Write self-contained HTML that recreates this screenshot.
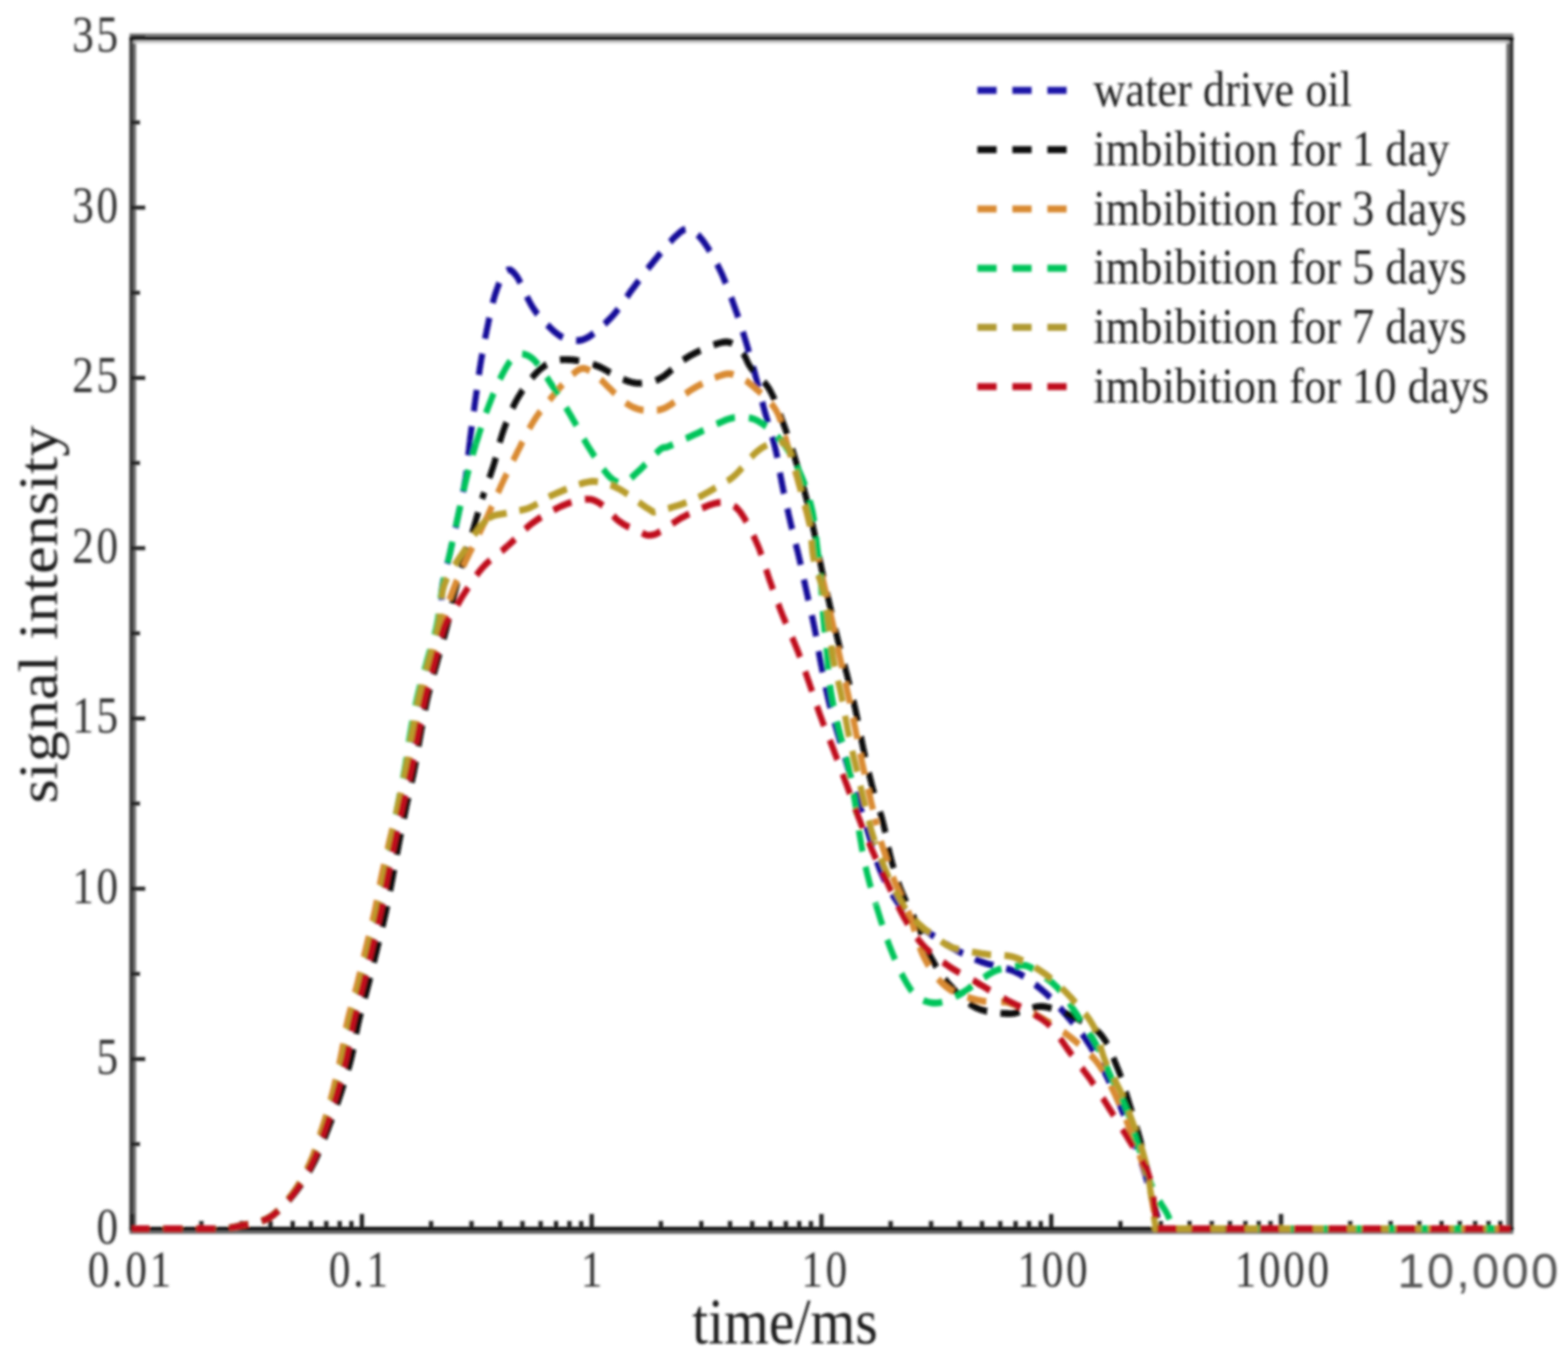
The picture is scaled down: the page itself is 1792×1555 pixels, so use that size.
<!DOCTYPE html><html><head><meta charset="utf-8"><style>html,body{margin:0;padding:0;background:#fff;overflow:hidden}svg{display:block}</style></head><body>
<svg width="1792" height="1555" viewBox="0 0 1792 1555">
<rect width="1792" height="1555" fill="#fff"/>
<defs><filter id="bl" x="0" y="0" width="1792" height="1555" filterUnits="userSpaceOnUse"><feGaussianBlur stdDeviation="1.5"/></filter></defs><g filter="url(#bl)">
<g fill="none">
<line x1="153.8" y1="44.0" x2="153.8" y2="1404.0" stroke="#707070" stroke-width="3.5"/>
<line x1="1723.2" y1="44.0" x2="1723.2" y2="1404.0" stroke="#707070" stroke-width="3.5"/>
<line x1="148.0" y1="40.0" x2="1729.5" y2="40.0" stroke="#7a7a7a" stroke-width="3.5"/>
<line x1="152.0" y1="48.0" x2="1725.0" y2="48.0" stroke="#cccccc" stroke-width="3"/>
<line x1="148.0" y1="1408.0" x2="1729.5" y2="1408.0" stroke="#666" stroke-width="3.5"/>
<line x1="150.0" y1="42.0" x2="150.0" y2="1406.0" stroke="#3a3a3a" stroke-width="4.5"/>
<line x1="1727.3" y1="42.0" x2="1727.3" y2="1406.0" stroke="#303030" stroke-width="4.5"/>
<line x1="148.0" y1="44.0" x2="1729.5" y2="44.0" stroke="#050505" stroke-width="4.5"/>
<line x1="148.0" y1="1404.0" x2="1729.5" y2="1404.0" stroke="#050505" stroke-width="4.5"/>
</g>
<g><line x1="151.0" y1="1404.0" x2="151.0" y2="1387.0" stroke="#222" stroke-width="5"/><line x1="230.1" y1="1404.0" x2="230.1" y2="1395.0" stroke="#222" stroke-width="5"/><line x1="276.3" y1="1404.0" x2="276.3" y2="1395.0" stroke="#222" stroke-width="5"/><line x1="309.1" y1="1404.0" x2="309.1" y2="1395.0" stroke="#222" stroke-width="5"/><line x1="334.5" y1="1404.0" x2="334.5" y2="1395.0" stroke="#222" stroke-width="5"/><line x1="355.3" y1="1404.0" x2="355.3" y2="1395.0" stroke="#222" stroke-width="5"/><line x1="372.9" y1="1404.0" x2="372.9" y2="1395.0" stroke="#222" stroke-width="5"/><line x1="388.2" y1="1404.0" x2="388.2" y2="1395.0" stroke="#222" stroke-width="5"/><line x1="401.6" y1="1404.0" x2="401.6" y2="1395.0" stroke="#222" stroke-width="5"/><line x1="413.6" y1="1404.0" x2="413.6" y2="1387.0" stroke="#222" stroke-width="5"/><line x1="492.7" y1="1404.0" x2="492.7" y2="1395.0" stroke="#222" stroke-width="5"/><line x1="538.9" y1="1404.0" x2="538.9" y2="1395.0" stroke="#222" stroke-width="5"/><line x1="571.7" y1="1404.0" x2="571.7" y2="1395.0" stroke="#222" stroke-width="5"/><line x1="597.1" y1="1404.0" x2="597.1" y2="1395.0" stroke="#222" stroke-width="5"/><line x1="617.9" y1="1404.0" x2="617.9" y2="1395.0" stroke="#222" stroke-width="5"/><line x1="635.5" y1="1404.0" x2="635.5" y2="1395.0" stroke="#222" stroke-width="5"/><line x1="650.8" y1="1404.0" x2="650.8" y2="1395.0" stroke="#222" stroke-width="5"/><line x1="664.2" y1="1404.0" x2="664.2" y2="1395.0" stroke="#222" stroke-width="5"/><line x1="676.2" y1="1404.0" x2="676.2" y2="1387.0" stroke="#222" stroke-width="5"/><line x1="755.3" y1="1404.0" x2="755.3" y2="1395.0" stroke="#222" stroke-width="5"/><line x1="801.5" y1="1404.0" x2="801.5" y2="1395.0" stroke="#222" stroke-width="5"/><line x1="834.3" y1="1404.0" x2="834.3" y2="1395.0" stroke="#222" stroke-width="5"/><line x1="859.7" y1="1404.0" x2="859.7" y2="1395.0" stroke="#222" stroke-width="5"/><line x1="880.5" y1="1404.0" x2="880.5" y2="1395.0" stroke="#222" stroke-width="5"/><line x1="898.1" y1="1404.0" x2="898.1" y2="1395.0" stroke="#222" stroke-width="5"/><line x1="913.4" y1="1404.0" x2="913.4" y2="1395.0" stroke="#222" stroke-width="5"/><line x1="926.8" y1="1404.0" x2="926.8" y2="1395.0" stroke="#222" stroke-width="5"/><line x1="938.8" y1="1404.0" x2="938.8" y2="1387.0" stroke="#222" stroke-width="5"/><line x1="1017.9" y1="1404.0" x2="1017.9" y2="1395.0" stroke="#222" stroke-width="5"/><line x1="1064.1" y1="1404.0" x2="1064.1" y2="1395.0" stroke="#222" stroke-width="5"/><line x1="1096.9" y1="1404.0" x2="1096.9" y2="1395.0" stroke="#222" stroke-width="5"/><line x1="1122.3" y1="1404.0" x2="1122.3" y2="1395.0" stroke="#222" stroke-width="5"/><line x1="1143.1" y1="1404.0" x2="1143.1" y2="1395.0" stroke="#222" stroke-width="5"/><line x1="1160.7" y1="1404.0" x2="1160.7" y2="1395.0" stroke="#222" stroke-width="5"/><line x1="1176.0" y1="1404.0" x2="1176.0" y2="1395.0" stroke="#222" stroke-width="5"/><line x1="1189.4" y1="1404.0" x2="1189.4" y2="1395.0" stroke="#222" stroke-width="5"/><line x1="1201.4" y1="1404.0" x2="1201.4" y2="1387.0" stroke="#222" stroke-width="5"/><line x1="1280.5" y1="1404.0" x2="1280.5" y2="1395.0" stroke="#222" stroke-width="5"/><line x1="1326.7" y1="1404.0" x2="1326.7" y2="1395.0" stroke="#222" stroke-width="5"/><line x1="1359.5" y1="1404.0" x2="1359.5" y2="1395.0" stroke="#222" stroke-width="5"/><line x1="1384.9" y1="1404.0" x2="1384.9" y2="1395.0" stroke="#222" stroke-width="5"/><line x1="1405.7" y1="1404.0" x2="1405.7" y2="1395.0" stroke="#222" stroke-width="5"/><line x1="1423.3" y1="1404.0" x2="1423.3" y2="1395.0" stroke="#222" stroke-width="5"/><line x1="1438.6" y1="1404.0" x2="1438.6" y2="1395.0" stroke="#222" stroke-width="5"/><line x1="1452.0" y1="1404.0" x2="1452.0" y2="1395.0" stroke="#222" stroke-width="5"/><line x1="1464.0" y1="1404.0" x2="1464.0" y2="1387.0" stroke="#222" stroke-width="5"/><line x1="1543.1" y1="1404.0" x2="1543.1" y2="1395.0" stroke="#222" stroke-width="5"/><line x1="1589.3" y1="1404.0" x2="1589.3" y2="1395.0" stroke="#222" stroke-width="5"/><line x1="1622.1" y1="1404.0" x2="1622.1" y2="1395.0" stroke="#222" stroke-width="5"/><line x1="1647.5" y1="1404.0" x2="1647.5" y2="1395.0" stroke="#222" stroke-width="5"/><line x1="1668.3" y1="1404.0" x2="1668.3" y2="1395.0" stroke="#222" stroke-width="5"/><line x1="1685.9" y1="1404.0" x2="1685.9" y2="1395.0" stroke="#222" stroke-width="5"/><line x1="1701.2" y1="1404.0" x2="1701.2" y2="1395.0" stroke="#222" stroke-width="5"/><line x1="1714.6" y1="1404.0" x2="1714.6" y2="1395.0" stroke="#222" stroke-width="5"/><line x1="150.0" y1="1404.5" x2="166.0" y2="1404.5" stroke="#222" stroke-width="4.5"/><line x1="150.0" y1="1307.2" x2="160.0" y2="1307.2" stroke="#222" stroke-width="4.5"/><line x1="150.0" y1="1210.0" x2="166.0" y2="1210.0" stroke="#222" stroke-width="4.5"/><line x1="150.0" y1="1112.7" x2="160.0" y2="1112.7" stroke="#222" stroke-width="4.5"/><line x1="150.0" y1="1015.4" x2="166.0" y2="1015.4" stroke="#222" stroke-width="4.5"/><line x1="150.0" y1="918.1" x2="160.0" y2="918.1" stroke="#222" stroke-width="4.5"/><line x1="150.0" y1="820.9" x2="166.0" y2="820.9" stroke="#222" stroke-width="4.5"/><line x1="150.0" y1="723.6" x2="160.0" y2="723.6" stroke="#222" stroke-width="4.5"/><line x1="150.0" y1="626.3" x2="166.0" y2="626.3" stroke="#222" stroke-width="4.5"/><line x1="150.0" y1="529.0" x2="160.0" y2="529.0" stroke="#222" stroke-width="4.5"/><line x1="150.0" y1="431.8" x2="166.0" y2="431.8" stroke="#222" stroke-width="4.5"/><line x1="150.0" y1="334.5" x2="160.0" y2="334.5" stroke="#222" stroke-width="4.5"/><line x1="150.0" y1="237.2" x2="166.0" y2="237.2" stroke="#222" stroke-width="4.5"/><line x1="150.0" y1="139.9" x2="160.0" y2="139.9" stroke="#222" stroke-width="4.5"/><line x1="150.0" y1="42.7" x2="166.0" y2="42.7" stroke="#222" stroke-width="4.5"/></g>
<g fill="none" stroke-linecap="butt" stroke-linejoin="round" transform="scale(1,1.12)">
<path d="M151.0,1253.6 152.7,1253.6 154.8,1253.6 157.1,1253.6 159.8,1253.6 162.7,1253.6 165.7,1253.6 169.0,1253.6 172.4,1253.6 175.9,1253.6 179.4,1253.6 183.0,1253.6 186.5,1253.6 190.1,1253.6 193.5,1253.6 196.8,1253.6 200.0,1253.6 203.1,1253.6 206.4,1253.6 209.6,1253.6 213.0,1253.6 216.3,1253.6 219.7,1253.6 223.0,1253.6 226.4,1253.6 229.7,1253.6 232.9,1253.6 236.0,1253.6 239.1,1253.6 242.0,1253.6 244.8,1253.6 247.5,1253.6 250.0,1253.6 254.0,1253.4 257.5,1253.1 260.6,1252.8 263.4,1252.5 266.0,1252.1 268.6,1251.7 271.2,1251.2 274.0,1250.6 277.0,1250.0 280.0,1249.4 283.0,1248.9 286.1,1248.4 289.3,1247.9 292.5,1247.3 295.7,1246.5 298.9,1245.7 302.0,1244.7 305.0,1243.4 308.0,1242.0 310.4,1240.5 312.8,1239.0 315.2,1237.2 317.5,1235.4 319.8,1233.4 322.1,1231.4 324.4,1229.2 326.6,1227.0 328.8,1224.8 330.9,1222.5 333.0,1220.2 335.0,1217.9 337.0,1215.5 338.9,1213.1 340.8,1210.6 342.7,1208.1 344.5,1205.5 346.2,1202.9 348.0,1200.2 349.7,1197.6 351.3,1194.8 352.9,1192.1 354.5,1189.4 356.0,1186.6 357.5,1183.8 358.9,1181.0 360.2,1178.2 361.5,1175.3 362.8,1172.4 364.0,1169.5 365.2,1166.5 366.4,1163.6 367.5,1160.6 368.7,1157.7 369.8,1154.7 371.0,1151.8 372.2,1148.8 373.3,1145.9 374.4,1143.0 375.6,1140.0 376.7,1137.1 377.8,1134.1 378.8,1131.1 379.9,1128.1 380.9,1125.1 382.0,1122.1 383.0,1119.1 384.0,1116.1 384.9,1113.2 385.8,1110.4 386.7,1107.5 387.6,1104.6 388.5,1101.7 389.4,1098.8 390.2,1095.9 391.1,1093.0 391.9,1090.1 392.7,1087.2 393.5,1084.3 394.3,1081.4 395.0,1078.6 395.8,1075.5 396.5,1072.4 397.1,1069.4 397.8,1066.3 398.4,1063.3 399.0,1060.3 399.6,1057.2 400.2,1054.2 400.9,1051.2 401.5,1048.1 402.2,1045.0 403.0,1042.0 403.8,1039.1 404.5,1036.2 405.4,1033.4 406.2,1030.5 407.1,1027.6 407.9,1024.7 408.8,1021.8 409.7,1018.9 410.6,1016.0 411.5,1013.1 412.3,1010.2 413.2,1007.3 414.0,1004.5 414.9,1001.4 415.7,998.3 416.6,995.3 417.4,992.2 418.2,989.2 419.1,986.2 419.9,983.1 420.7,980.1 421.5,977.1 422.3,974.0 423.2,970.9 424.0,967.9 424.8,964.8 425.7,961.6 426.5,958.5 427.4,955.4 428.3,952.3 429.1,949.1 430.0,946.0 430.8,942.8 431.6,939.7 432.4,936.6 433.2,933.5 434.0,930.4 434.7,927.3 435.4,924.2 436.1,921.1 436.8,918.1 437.5,915.0 438.1,911.9 438.8,908.9 439.4,905.9 440.0,902.8 440.7,899.8 441.3,896.8 442.0,893.7 442.7,890.7 443.3,887.8 444.0,884.8 444.6,881.8 445.3,878.9 445.9,875.9 446.6,873.0 447.3,870.0 447.9,867.1 448.6,864.1 449.3,861.1 450.0,858.0 450.7,855.0 451.4,851.9 452.2,848.7 452.9,845.6 453.7,842.4 454.4,839.2 455.2,836.1 456.0,832.9 456.7,829.8 457.5,826.7 458.2,823.6 459.0,820.5 459.8,817.3 460.6,814.1 461.5,810.9 462.3,807.8 463.1,804.7 464.0,801.6 464.8,798.5 465.6,795.4 466.4,792.2 467.2,789.0 468.0,785.7 468.6,782.9 469.3,780.0 469.9,777.1 470.5,774.1 471.1,771.1 471.8,768.1 472.4,765.1 473.0,762.1 473.6,759.1 474.2,756.1 474.8,753.2 475.4,750.2 476.0,747.3 476.7,744.2 477.3,741.1 477.9,738.0 478.6,735.0 479.2,731.9 479.8,728.9 480.5,725.9 481.1,722.9 481.8,719.8 482.5,716.8 483.2,713.8 484.0,710.7 484.8,707.7 485.7,704.6 486.5,701.5 487.4,698.5 488.4,695.4 489.3,692.4 490.3,689.3 491.2,686.2 492.2,683.2 493.1,680.2 494.1,677.1 495.0,674.1 496.0,671.1 497.0,668.1 498.0,665.1 499.1,662.2 500.2,659.2 501.2,656.2 502.3,653.3 503.2,650.3 504.1,647.4 504.9,644.4 505.5,641.4 506.0,638.4 506.3,635.4 506.4,632.3 506.4,629.3 506.2,626.3 505.9,623.2 505.6,620.1 505.3,617.1 505.0,614.0 504.8,611.0 504.7,607.9 504.8,604.8 505.0,601.8 505.4,598.7 505.9,595.7 506.5,592.6 507.3,589.6 508.0,586.5 508.9,583.5 509.7,580.4 510.6,577.4 511.5,574.3 512.4,571.3 513.2,568.2 514.0,565.2 514.8,562.1 515.5,559.1 516.2,556.1 517.0,553.1 517.7,550.1 518.5,547.1 519.2,544.1 520.0,541.0 520.8,538.0 521.5,534.9 522.2,531.7 523.0,528.6 523.7,525.6 524.4,522.6 525.2,519.5 525.9,516.4 526.6,513.3 527.4,510.2 528.1,507.0 528.8,503.9 529.5,500.7 530.2,497.6 530.8,494.5 531.4,491.4 532.0,488.4 532.6,485.1 533.1,481.9 533.5,478.7 533.9,475.5 534.3,472.4 534.7,469.2 535.0,466.0 535.4,462.9 535.8,459.7 536.2,456.5 536.6,453.3 537.0,450.0" stroke="#14109a" stroke-width="7" stroke-dasharray="22 15.75" stroke-dashoffset="2.2"/>
<path d="M537.0,450.0 537.4,447.0 537.9,443.9 538.3,440.8 538.8,437.7 539.2,434.6 539.7,431.4 540.2,428.3 540.6,425.2 541.1,422.0 541.6,418.9 542.1,415.9 542.5,412.8 543.0,409.8 543.5,406.6 544.0,403.4 544.5,400.3 544.9,397.2 545.4,394.1 545.9,391.0 546.4,387.9 546.9,384.8 547.4,381.7 547.9,378.6 548.4,375.5 549.0,372.3 549.5,369.4 550.1,366.4 550.7,363.4 551.3,360.4 551.9,357.4 552.5,354.4 553.1,351.4 553.8,348.4 554.4,345.4 555.0,342.5 555.7,339.6 556.3,336.7 557.0,333.9 557.8,330.6 558.5,327.3 559.3,324.1 560.1,320.8 560.9,317.6 561.6,314.4 562.5,311.4 563.3,308.4 564.2,305.5 565.1,302.7 566.0,300.0 567.4,296.4 568.8,292.8 570.3,289.3 571.8,286.0 573.4,283.0 574.9,280.4 576.5,278.3 578.0,276.8 580.8,275.3 583.5,275.4 586.4,277.4 590.0,281.2 591.3,282.9 592.6,284.9 594.0,287.3 595.4,289.8 596.9,292.6 598.4,295.5 600.0,298.5 601.6,301.5 603.2,304.5 604.9,307.4 606.6,310.2 608.3,312.8 610.0,315.2 612.1,317.8 614.3,320.4 616.7,322.9 619.1,325.4 621.5,327.8 623.9,330.0 626.3,332.2 628.6,334.2 630.9,336.1 633.0,337.8 635.0,339.3 638.3,341.6 641.2,343.3 643.9,344.5 646.5,345.3 649.1,346.0 652.0,346.4 654.9,346.9 657.8,347.3 660.8,347.4 663.9,347.1 667.2,346.2 671.0,344.6 673.1,343.5 675.3,342.2 677.7,340.6 680.1,338.9 682.7,337.1 685.2,335.1 687.8,333.0 690.4,330.9 692.9,328.8 695.4,326.6 697.8,324.4 700.0,322.3 702.3,320.0 704.5,317.6 706.7,315.1 708.8,312.6 710.9,310.1 712.9,307.5 714.9,304.9 716.9,302.3 718.9,299.7 720.9,297.1 723.0,294.6 725.1,292.2 727.1,289.7 729.2,287.3 731.2,284.8 733.3,282.4 735.3,280.0 737.4,277.6 739.5,275.1 741.6,272.7 743.8,270.3 746.0,267.9 748.1,265.6 750.3,263.2 752.5,260.7 754.9,258.2 757.2,255.7 759.5,253.2 761.8,250.8 764.0,248.5 766.2,246.4 768.3,244.4 770.2,242.6 772.0,241.1 775.7,238.1 778.7,235.9 781.4,234.4 784.0,233.8 787.0,233.9 789.3,234.5 791.6,235.5 794.0,236.9 796.4,238.7 798.9,240.9 801.4,243.5 804.0,246.4 805.6,248.4 807.2,250.5 808.9,252.8 810.6,255.3 812.3,257.8 814.1,260.5 815.8,263.3 817.5,266.2 819.2,269.0 820.9,271.9 822.5,274.8 824.0,277.7 825.4,280.3 826.7,283.1 828.0,285.8 829.3,288.7 830.6,291.5 831.9,294.4 833.1,297.3 834.3,300.2 835.5,303.1 836.7,306.0 837.8,308.8 838.9,311.6 840.0,314.3 841.2,317.4 842.5,320.5 843.6,323.6 844.7,326.6 845.8,329.6 846.9,332.6 848.0,335.6 849.0,338.5 850.0,341.5 851.0,344.4 852.0,347.3 853.1,350.5 854.1,353.5 855.1,356.5 856.0,359.5 857.0,362.4 858.0,365.5 858.9,368.5 859.9,371.7 860.9,375.1 862.0,378.6 862.8,381.2 863.6,384.0 864.4,386.8 865.3,389.7 866.1,392.7 867.0,395.7 867.9,398.7 868.8,401.8 869.6,404.8 870.5,407.9 871.4,410.9 872.3,413.9 873.1,416.8 874.0,419.6 874.9,422.6 875.9,425.6 876.9,428.5 877.8,431.4 878.8,434.3 879.8,437.2 880.7,440.0 881.7,442.9 882.6,445.7 883.5,448.6 884.4,451.4 885.2,454.3 886.0,457.1 886.8,460.3 887.6,463.4 888.3,466.5 888.9,469.7 889.6,472.8 890.2,475.9 890.8,479.1 891.4,482.2 892.0,485.3 892.7,488.4 893.3,491.5 894.0,494.6 894.7,497.7 895.4,500.8 896.2,503.9 896.9,506.9 897.6,510.0 898.4,513.0 899.1,516.0 899.9,519.1 900.7,522.1 901.4,525.2 902.2,528.2 903.0,531.2 903.8,534.3 904.6,537.4 905.5,540.4 906.3,543.5 907.1,546.5 908.0,549.6 908.9,552.6 909.7,555.7 910.5,558.7 911.4,561.8 912.2,564.8 913.0,567.9 913.8,570.9 914.6,574.0 915.3,577.0 916.1,580.1 916.8,583.1 917.6,586.2 918.3,589.2 919.0,592.3 919.8,595.3 920.5,598.4 921.3,601.4 922.0,604.5 922.8,607.5 923.5,610.6 924.3,613.7 925.1,616.7 925.9,619.8 926.6,622.9 927.4,625.9 928.1,629.0 928.9,632.0 929.6,635.1 930.3,638.1 931.0,641.1 931.7,644.3 932.4,647.5 933.0,650.6 933.6,653.7 934.2,656.8 934.8,659.9 935.4,663.0 936.0,666.2 936.6,669.4 937.3,672.6 938.0,675.9 938.6,678.7 939.3,681.6 939.9,684.6 940.6,687.5 941.2,690.5 941.9,693.5 942.6,696.5 943.3,699.6 944.0,702.6 944.7,705.5 945.5,708.5 946.2,711.4 947.0,714.3 947.8,717.4 948.7,720.4 949.6,723.4 950.5,726.4 951.4,729.4 952.3,732.3 953.2,735.3 954.2,738.2 955.1,741.1 956.1,744.1 957.0,747.0 958.0,750.0 959.0,753.0 959.9,756.0 960.9,759.0 961.9,762.0 962.9,765.0 963.9,768.0 964.9,771.0 966.0,773.9 967.0,776.9 968.0,779.9 969.0,782.8 970.0,785.7 971.1,788.9 972.2,792.0 973.3,795.1 974.4,798.3 975.5,801.4 976.6,804.4 977.7,807.5 978.8,810.6 979.9,813.6 980.9,816.6 982.0,819.6 983.0,822.6 984.0,825.6 985.0,828.5 986.0,831.4 987.0,834.3 988.0,837.2 989.0,840.0 990.0,842.9 991.0,845.9 992.0,848.8 993.0,851.8 994.0,854.8 995.1,857.9 996.1,861.1 997.2,864.3 998.2,867.5 999.3,870.7 1000.4,873.8 1001.5,876.9 1002.6,880.0 1003.8,882.9 1005.0,885.7 1006.4,888.7 1007.7,891.6 1009.1,894.4 1010.5,897.1 1012.0,899.7 1013.5,902.3 1015.0,904.9 1016.6,907.4 1018.3,910.0 1020.0,912.5 1021.8,915.1 1023.6,917.6 1025.6,920.2 1027.5,922.8 1029.6,925.3 1031.6,927.7 1033.7,930.1 1035.8,932.4 1037.9,934.6 1040.0,936.6 1042.6,938.9 1045.3,941.1 1048.1,943.0 1050.8,944.9 1053.6,946.6 1056.4,948.3 1059.2,950.0 1062.0,951.8" stroke="#14109a" stroke-width="7" stroke-dasharray="22 15.50" stroke-dashoffset="6.6"/>
<path d="M1062.0,951.8 1064.8,953.6 1067.7,955.3 1070.6,957.1 1073.4,958.8 1076.3,960.4 1079.2,962.1 1082.1,963.6 1085.0,965.2 1087.9,966.7 1090.8,968.1 1093.8,969.5 1096.7,970.9 1099.6,972.3 1102.5,973.5 1105.3,974.7 1108.0,975.9 1110.9,977.1 1113.5,978.1 1116.0,979.1 1118.6,980.0 1121.4,981.0 1124.4,982.0 1128.0,983.0 1130.6,983.7 1133.4,984.4 1136.3,985.1 1139.5,985.7 1142.7,986.4 1146.0,987.1 1149.3,987.9 1152.6,988.7 1155.8,989.7 1159.0,990.7 1162.0,992.0 1164.7,993.2 1167.4,994.6 1170.1,996.1 1172.8,997.6 1175.5,999.3 1178.1,1000.9 1180.7,1002.7 1183.3,1004.5 1185.8,1006.3 1188.3,1008.1 1190.7,1009.8 1193.0,1011.6 1195.7,1013.7 1198.2,1015.8 1200.7,1017.9 1203.1,1020.1 1205.4,1022.3 1207.7,1024.5 1209.9,1026.8 1212.2,1029.1 1214.6,1031.5 1217.0,1033.9 1219.1,1036.0 1221.1,1038.1 1223.2,1040.3 1225.3,1042.4 1227.4,1044.6 1229.6,1046.9 1231.7,1049.2 1233.8,1051.5 1235.9,1053.9 1237.9,1056.4 1240.0,1059.0 1242.0,1061.6 1243.7,1063.9 1245.4,1066.3 1247.1,1068.7 1248.7,1071.2 1250.4,1073.7 1252.0,1076.2 1253.7,1078.9 1255.3,1081.5 1256.9,1084.2 1258.6,1086.9 1260.2,1089.7 1261.8,1092.5 1263.4,1095.3 1265.0,1098.2 1266.4,1100.8 1267.8,1103.4 1269.2,1106.1 1270.7,1108.8 1272.1,1111.6 1273.5,1114.4 1274.9,1117.2 1276.3,1120.0 1277.7,1122.9 1279.1,1125.8 1280.5,1128.6 1281.8,1131.5 1283.1,1134.4 1284.4,1137.2 1285.7,1140.1 1287.0,1142.9 1288.2,1145.6 1289.5,1148.4 1290.7,1151.2 1291.9,1154.0 1293.0,1156.8 1294.2,1159.6 1295.3,1162.4 1296.4,1165.2 1297.5,1168.0 1298.6,1170.8 1299.7,1173.5 1300.8,1176.3 1301.9,1179.1 1302.9,1181.9 1304.0,1184.7 1305.0,1187.5 1306.1,1190.5 1307.2,1193.6 1308.3,1196.8 1309.4,1200.0 1310.5,1203.2 1311.6,1206.5 1312.6,1209.7 1313.6,1212.9 1314.6,1216.0 1315.6,1219.0 1316.6,1221.9 1317.5,1224.7 1318.4,1227.4 1319.2,1229.8 1320.0,1232.1 1321.4,1236.6 1322.6,1240.6 1323.6,1244.1 1324.4,1247.1 1325.4,1249.7 1326.6,1251.8 1328.0,1253.6 1328.3,1253.6 1326.7,1253.6 1326.4,1253.6 1330.8,1253.6 1343.0,1253.6 1344.7,1253.6 1346.5,1253.6 1348.3,1253.6 1350.2,1253.6 1352.2,1253.6 1354.3,1253.6 1356.4,1253.6 1358.6,1253.6 1360.9,1253.6 1363.3,1253.6 1365.7,1253.6 1368.1,1253.6 1370.6,1253.6 1373.2,1253.6 1375.9,1253.6 1378.6,1253.6 1381.3,1253.6 1384.1,1253.6 1387.0,1253.6 1389.9,1253.6 1392.9,1253.6 1395.9,1253.6 1398.9,1253.6 1402.0,1253.6 1405.1,1253.6 1408.3,1253.6 1411.5,1253.6 1414.8,1253.6 1418.1,1253.6 1421.4,1253.6 1424.7,1253.6 1428.1,1253.6 1431.5,1253.6 1435.0,1253.6 1438.5,1253.6 1442.0,1253.6 1445.5,1253.6 1449.0,1253.6 1452.6,1253.6 1456.1,1253.6 1459.7,1253.6 1463.4,1253.6 1467.0,1253.6 1470.6,1253.6 1474.3,1253.6 1477.9,1253.6 1481.6,1253.6 1485.3,1253.6 1489.0,1253.6 1492.6,1253.6 1496.3,1253.6 1500.0,1253.6 1502.6,1253.6 1505.2,1253.6 1507.9,1253.6 1510.7,1253.6 1513.5,1253.6 1516.4,1253.6 1519.3,1253.6 1522.3,1253.6 1525.3,1253.6 1528.4,1253.6 1531.5,1253.6 1534.7,1253.6 1537.9,1253.6 1541.1,1253.6 1544.4,1253.6 1547.7,1253.6 1551.0,1253.6 1554.4,1253.6 1557.8,1253.6 1561.2,1253.6 1564.7,1253.6 1568.1,1253.6 1571.6,1253.6 1575.1,1253.6 1578.6,1253.6 1582.1,1253.6 1585.6,1253.6 1589.2,1253.6 1592.7,1253.6 1596.3,1253.6 1599.8,1253.6 1603.4,1253.6 1606.9,1253.6 1610.5,1253.6 1614.0,1253.6 1617.5,1253.6 1621.1,1253.6 1624.6,1253.6 1628.1,1253.6 1631.5,1253.6 1635.0,1253.6 1638.4,1253.6 1641.8,1253.6 1645.2,1253.6 1648.6,1253.6 1651.9,1253.6 1655.2,1253.6 1658.4,1253.6 1661.7,1253.6 1664.9,1253.6 1668.0,1253.6 1671.1,1253.6 1674.2,1253.6 1677.2,1253.6 1680.1,1253.6 1683.1,1253.6 1685.9,1253.6 1688.7,1253.6 1691.5,1253.6 1694.2,1253.6 1696.8,1253.6 1699.4,1253.6 1701.9,1253.6 1704.3,1253.6 1706.7,1253.6 1708.9,1253.6 1711.2,1253.6 1713.3,1253.6 1715.4,1253.6 1717.4,1253.6 1719.3,1253.6 1721.1,1253.6 1722.8,1253.6 1724.4,1253.6 1726.0,1253.6" stroke="#14109a" stroke-width="7" stroke-dasharray="22 15.00" stroke-dashoffset="15.2"/>
<path d="M151.0,1253.6 152.7,1253.6 154.8,1253.6 157.1,1253.6 159.8,1253.6 162.7,1253.6 165.7,1253.6 169.0,1253.6 172.4,1253.6 175.9,1253.6 179.4,1253.6 183.0,1253.6 186.5,1253.6 190.1,1253.6 193.5,1253.6 196.8,1253.6 200.0,1253.6 203.1,1253.6 206.4,1253.6 209.6,1253.6 213.0,1253.6 216.3,1253.6 219.7,1253.6 223.0,1253.6 226.4,1253.6 229.7,1253.6 232.9,1253.6 236.0,1253.6 239.1,1253.6 242.0,1253.6 244.8,1253.6 247.5,1253.6 250.0,1253.6 254.0,1253.4 257.5,1253.1 260.5,1252.8 263.3,1252.5 266.0,1252.1 268.5,1251.7 271.2,1251.2 273.9,1250.6 277.0,1250.0 280.0,1249.4 283.0,1248.9 286.2,1248.4 289.4,1247.9 292.6,1247.3 295.8,1246.5 299.0,1245.7 302.2,1244.7 305.3,1243.4 308.3,1242.0 310.8,1240.5 313.2,1239.0 315.7,1237.2 318.1,1235.4 320.5,1233.4 322.9,1231.4 325.2,1229.2 327.5,1227.0 329.8,1224.8 332.0,1222.5 334.1,1220.2 336.3,1217.9 338.3,1215.5 340.4,1213.1 342.4,1210.6 344.3,1208.1 346.2,1205.5 348.1,1202.9 349.9,1200.2 351.7,1197.6 353.5,1194.8 355.2,1192.1 356.9,1189.4 358.5,1186.6 360.1,1183.8 361.6,1181.0 363.0,1178.2 364.4,1175.3 365.8,1172.4 367.2,1169.5 368.5,1166.5 369.8,1163.6 371.0,1160.6 372.3,1157.7 373.6,1154.7 374.9,1151.8 376.1,1148.8 377.4,1145.9 378.6,1143.0 379.9,1140.0 381.1,1137.1 382.3,1134.1 383.5,1131.1 384.7,1128.1 385.8,1125.1 387.0,1122.1 388.1,1119.1 389.2,1116.1 390.3,1113.2 391.3,1110.4 392.3,1107.5 393.4,1104.6 394.4,1101.7 395.4,1098.8 396.4,1095.9 397.3,1093.0 398.3,1090.1 399.2,1087.2 400.1,1084.3 400.9,1081.4 401.7,1078.6 402.5,1075.5 403.3,1072.4 404.0,1069.4 404.7,1066.3 405.3,1063.3 406.0,1060.3 406.6,1057.2 407.2,1054.2 407.8,1051.2 408.5,1048.1 409.2,1045.0 410.0,1042.0 410.8,1039.1 411.6,1036.2 412.4,1033.4 413.2,1030.5 414.1,1027.6 415.0,1024.7 415.8,1021.8 416.7,1018.9 417.6,1016.0 418.5,1013.1 419.3,1010.2 420.2,1007.3 421.0,1004.5 421.9,1001.4 422.7,998.3 423.6,995.3 424.4,992.2 425.2,989.2 426.1,986.2 426.9,983.1 427.7,980.1 428.5,977.1 429.3,974.0 430.2,970.9 431.0,967.9 431.8,964.8 432.7,961.6 433.5,958.5 434.4,955.4 435.3,952.3 436.1,949.1 437.0,946.0 437.8,942.8 438.6,939.7 439.4,936.6 440.2,933.5 441.0,930.4 441.7,927.3 442.5,924.2 443.2,921.1 443.8,918.1 444.5,915.0 445.2,911.9 445.8,908.9 446.4,905.9 447.1,902.8 447.7,899.8 448.4,896.8 449.0,893.7 449.6,890.7 450.3,887.8 450.9,884.8 451.5,881.8 452.1,878.9 452.7,875.9 453.3,873.0 453.9,870.0 454.6,867.1 455.2,864.1 455.8,861.1 456.5,858.0 457.1,855.0 457.8,851.9 458.5,848.7 459.2,845.6 459.9,842.4 460.6,839.2 461.4,836.1 462.1,832.9 462.8,829.8 463.5,826.7 464.2,823.6 464.9,820.5 465.7,817.3 466.5,814.1 467.3,810.9 468.0,807.8 468.8,804.7 469.6,801.6 470.4,798.5 471.1,795.4 471.9,792.2 472.7,789.0 473.4,785.7 474.0,782.9 474.6,780.0 475.2,777.1 475.8,774.1 476.4,771.1 476.9,768.1 477.5,765.1 478.1,762.1 478.7,759.1 479.2,756.1 479.8,753.2 480.4,750.2 481.0,747.3 481.6,744.2 482.3,741.1 482.9,738.0 483.5,735.0 484.2,731.9 484.8,728.9 485.4,725.9 486.1,722.9 486.8,719.8 487.5,716.8 488.2,713.8 489.0,710.7 489.8,707.7 490.7,704.6 491.5,701.5 492.4,698.5 493.4,695.4 494.3,692.4 495.3,689.3 496.2,686.2 497.2,683.2 498.1,680.2 499.1,677.1 500.0,674.1 500.9,671.1 501.9,668.0 502.8,664.9 503.8,661.8 504.8,658.8 505.8,655.7 506.7,652.7 507.6,649.7 508.5,646.7 509.4,643.9 510.2,641.1 511.0,638.4 511.9,635.0 512.7,631.9 513.5,628.9 514.2,626.1 514.8,623.2 515.5,620.4 516.3,617.4 517.1,614.2 518.0,610.7 518.7,608.1 519.5,605.4 520.3,602.5 521.2,599.5 522.0,596.4 522.9,593.3 523.8,590.2 524.7,587.1 525.6,584.1 526.5,581.2 527.4,578.3 528.2,575.7 529.0,573.2 530.2,569.7 531.3,566.6 532.3,563.9 533.4,561.3 534.4,558.7 535.5,556.0 536.7,552.8 538.0,549.1 538.8,546.7 539.6,544.2 540.5,541.4 541.4,538.6 542.3,535.7 543.3,532.7 544.2,529.6 545.2,526.6 546.2,523.5 547.2,520.4 548.1,517.4 549.1,514.5 550.1,511.6 551.0,508.9" stroke="#0a0a0a" stroke-width="7" stroke-dasharray="22 15.75" stroke-dashoffset="2.2"/>
<path d="M551.0,508.9 552.1,505.9 553.2,502.9 554.3,500.0 555.4,497.2 556.5,494.4 557.6,491.6 558.7,488.9 559.8,486.1 560.9,483.4 561.9,480.6 563.0,477.8 564.0,475.0 565.0,472.1 565.9,469.2 566.8,466.3 567.6,463.4 568.5,460.5 569.3,457.5 570.2,454.6 571.0,451.7 571.9,448.8 572.9,445.9 573.9,443.0 575.0,440.2 576.1,437.3 577.3,434.5 578.5,431.6 579.7,428.8 581.0,426.0 582.3,423.2 583.7,420.4 585.0,417.6 586.5,414.9 587.9,412.3 589.4,409.7 591.0,407.1 592.8,404.4 594.7,401.7 596.6,399.0 598.7,396.3 600.8,393.7 602.9,391.2 605.0,388.7 607.1,386.4 609.1,384.2 611.1,382.2 613.0,380.4 615.9,377.8 618.7,375.6 621.4,373.8 624.1,372.2 626.7,370.9 629.4,369.8 632.0,368.7 635.0,367.8 638.0,367.3 640.9,367.0 643.9,366.9 646.9,366.9 650.0,367.0 653.3,367.1 656.6,367.4 660.1,367.9 663.5,368.4 666.8,369.0 670.0,369.6 673.6,370.5 677.0,371.4 680.3,372.5 683.6,373.7 687.0,375.0 689.9,376.3 692.9,377.8 695.9,379.4 699.0,381.0 702.0,382.6 705.0,383.9 708.0,385.2 711.0,386.4 714.1,387.6 717.1,388.7 720.1,389.5 723.0,390.2 726.5,390.7 729.9,390.9 733.2,390.9 736.6,390.6 740.0,390.2 743.2,389.7 746.2,389.1 749.3,388.3 752.8,386.9 757.0,384.8 759.2,383.5 761.4,381.9 763.9,380.1 766.4,378.2 769.0,376.2 771.7,374.1 774.4,371.9 777.3,369.8 780.1,367.8 783.1,366.0 786.0,364.3 788.8,362.8 791.8,361.4 795.0,359.9 798.2,358.5 801.5,357.1 804.8,355.8 808.1,354.6 811.2,353.4 814.2,352.4 817.1,351.4 819.7,350.6 822.0,350.0 826.5,349.1 830.0,348.8 832.8,349.1 835.4,349.8 838.0,350.9 840.7,352.4 843.3,354.3 845.7,356.7 847.9,359.1 850.0,361.6 851.6,364.0 852.8,366.3 854.0,368.8 855.6,371.6 858.0,375.0 859.7,376.9 861.6,378.8 863.8,380.8 866.1,383.0 868.5,385.2 871.0,387.6 873.4,390.0 875.8,392.6 878.0,395.3 880.0,398.2 881.4,400.6 882.8,403.0 884.2,405.6 885.5,408.3 886.7,411.1 888.0,413.9 889.2,416.8 890.3,419.7 891.5,422.6 892.6,425.5 893.8,428.4 894.9,431.2 896.0,433.9 897.2,436.8 898.3,439.7 899.5,442.6 900.6,445.4 901.6,448.2 902.7,451.0 903.7,453.8 904.8,456.7 905.8,459.6 906.9,462.6 907.9,465.6 909.0,468.7 909.9,471.5 910.9,474.4 911.9,477.3 912.9,480.3 913.8,483.4 914.8,486.4 915.8,489.5 916.8,492.6 917.7,495.6 918.7,498.6 919.5,501.6 920.4,504.4 921.2,507.2 922.0,509.8 923.0,513.3 923.9,516.6 924.7,519.7 925.5,522.6 926.2,525.6 927.0,528.5 927.7,531.4 928.4,534.5 929.2,537.7 930.0,541.1 930.7,543.8 931.3,546.7 932.0,549.7 932.7,552.7 933.4,555.8 934.1,558.9 934.8,562.0 935.5,565.1 936.2,568.3 936.9,571.4 937.6,574.4 938.3,577.4 939.0,580.4 939.7,583.4 940.5,586.5 941.2,589.5 942.0,592.4 942.7,595.4 943.4,598.3 944.2,601.2 944.9,604.1 945.7,607.0 946.4,610.0 947.2,613.0 948.0,616.1 948.7,618.9 949.5,621.8 950.2,624.8 951.0,627.7 951.7,630.7 952.5,633.7 953.3,636.7 954.0,639.6 954.8,642.6 955.6,645.6 956.4,648.6 957.2,651.5 958.0,654.5 958.8,657.4 959.6,660.3 960.5,663.2 961.3,666.1 962.2,669.0 963.1,671.8 963.9,674.7 964.8,677.6 965.7,680.5 966.5,683.3 967.4,686.2 968.2,689.1 969.0,692.0 969.9,695.1 970.7,698.2 971.6,701.4 972.5,704.5 973.3,707.7 974.2,710.8 975.0,714.0 975.9,717.1 976.7,720.2 977.5,723.3 978.2,726.4 979.0,729.5 979.7,732.5 980.4,735.5 981.1,738.5 981.7,741.4 982.4,744.4 983.0,747.3 983.6,750.3 984.3,753.2 984.9,756.2 985.6,759.1 986.3,762.1 987.0,765.2 987.8,768.2 988.5,771.3 989.3,774.5 990.1,777.6 990.9,780.8 991.8,783.9 992.6,787.1 993.4,790.2 994.3,793.4 995.2,796.5 996.1,799.6 997.0,802.7 997.9,805.7 998.9,808.7 999.9,811.6 1000.9,814.6" stroke="#0a0a0a" stroke-width="7" stroke-dasharray="22 16.00" stroke-dashoffset="15.1"/>
<path d="M1000.9,814.6 1002.0,817.5 1003.0,820.4 1004.0,823.3 1005.1,826.2 1006.1,829.2 1007.1,832.2 1008.1,835.3 1009.0,838.4 1009.8,841.4 1010.6,844.4 1011.4,847.5 1012.2,850.7 1012.9,853.9 1013.6,857.1 1014.4,860.3 1015.1,863.5 1015.8,866.7 1016.6,869.8 1017.4,872.8 1018.2,875.7 1019.0,878.6 1020.0,881.8 1021.0,884.8 1021.9,887.8 1022.9,890.6 1023.9,893.4 1024.9,896.2 1026.0,899.0 1027.1,901.8 1028.3,904.7 1029.6,907.6 1031.0,910.7 1032.2,913.2 1033.5,915.9 1034.9,918.6 1036.3,921.3 1037.8,924.1 1039.4,926.9 1040.9,929.7 1042.5,932.5 1044.0,935.3 1045.6,938.0 1047.0,940.7 1048.4,943.3 1049.8,945.8 1051.0,948.2 1052.5,951.4 1053.9,954.5 1055.2,957.5 1056.3,960.3 1057.4,963.1 1058.6,965.9 1059.7,968.6 1061.0,971.3 1062.4,974.0 1064.0,976.8 1065.6,979.4 1067.2,981.9 1068.9,984.5 1070.7,987.1 1072.5,989.7 1074.4,992.2 1076.4,994.8 1078.4,997.3 1080.5,999.7 1082.7,1002.1 1085.0,1004.5 1087.2,1006.6 1089.4,1008.8 1091.8,1011.0 1094.1,1013.2 1096.6,1015.3 1099.1,1017.4 1101.7,1019.4 1104.3,1021.4 1106.9,1023.2 1109.6,1024.8 1112.3,1026.4 1115.0,1027.7 1118.1,1028.9 1121.3,1030.0 1124.6,1030.8 1128.0,1031.6 1131.4,1032.2 1134.8,1032.6 1138.2,1033.0 1141.4,1033.3 1144.5,1033.6 1147.4,1033.8 1150.0,1033.9 1154.2,1034.0 1157.7,1033.8 1160.8,1033.3 1163.7,1032.6 1166.7,1031.9 1170.0,1031.2 1172.9,1030.6 1175.8,1029.7 1178.7,1028.7 1181.7,1027.8 1184.9,1027.1 1188.3,1026.7 1192.0,1026.8 1194.6,1027.1 1197.3,1027.6 1200.2,1028.2 1203.2,1028.9 1206.3,1029.8 1209.4,1030.7 1212.5,1031.8 1215.7,1032.9 1218.9,1034.1 1222.0,1035.3 1225.0,1036.6 1227.8,1037.8 1230.7,1039.0 1233.6,1040.3 1236.5,1041.6 1239.5,1043.0 1242.4,1044.5 1245.2,1046.0 1248.0,1047.7 1250.7,1049.4 1253.3,1051.3 1255.7,1053.2 1258.0,1055.4 1260.1,1057.7 1262.0,1060.1 1263.9,1062.8 1265.6,1065.5 1267.2,1068.4 1268.8,1071.3 1270.2,1074.3 1271.6,1077.3 1273.0,1080.4 1274.3,1083.4 1275.7,1086.4 1277.0,1089.3 1278.3,1092.1 1279.5,1094.9 1280.6,1097.7 1281.7,1100.4 1282.7,1103.2 1283.8,1106.0 1284.7,1108.8 1285.7,1111.7 1286.8,1114.6 1287.8,1117.7 1288.9,1120.8 1290.0,1124.1 1290.9,1126.8 1291.9,1129.6 1292.9,1132.4 1293.9,1135.3 1294.9,1138.2 1296.0,1141.2 1297.0,1144.2 1298.0,1147.2 1299.0,1150.3 1300.1,1153.5 1301.1,1156.6 1302.1,1159.8 1303.1,1163.1 1304.1,1166.4 1305.0,1169.6 1305.8,1172.5 1306.6,1175.4 1307.3,1178.4 1308.1,1181.5 1308.9,1184.6 1309.7,1187.8 1310.4,1191.0 1311.2,1194.2 1311.9,1197.4 1312.7,1200.6 1313.4,1203.7 1314.1,1206.8 1314.8,1209.8 1315.5,1212.7 1316.1,1215.5 1316.8,1218.2 1317.4,1220.8 1318.0,1223.2 1319.0,1227.3 1319.8,1231.3 1320.5,1235.0 1321.2,1238.5 1321.9,1241.7 1322.5,1244.7 1323.2,1247.4 1324.0,1249.8 1324.9,1251.9 1326.0,1253.6 1326.2,1253.6 1324.6,1253.6 1324.3,1253.6 1328.7,1253.6 1341.0,1253.6 1342.7,1253.6 1344.4,1253.6 1346.3,1253.6 1348.2,1253.6 1350.2,1253.6 1352.2,1253.6 1354.3,1253.6 1356.5,1253.6 1358.8,1253.6 1361.1,1253.6 1363.5,1253.6 1365.9,1253.6 1368.4,1253.6 1371.0,1253.6 1373.6,1253.6 1376.3,1253.6 1379.0,1253.6 1381.8,1253.6 1384.6,1253.6 1387.5,1253.6 1390.4,1253.6 1393.4,1253.6 1396.4,1253.6 1399.5,1253.6 1402.6,1253.6 1405.7,1253.6 1408.9,1253.6 1412.1,1253.6 1415.4,1253.6 1418.7,1253.6 1422.0,1253.6 1425.3,1253.6 1428.7,1253.6 1432.1,1253.6 1435.6,1253.6 1439.0,1253.6 1442.5,1253.6 1446.0,1253.6 1449.5,1253.6 1453.1,1253.6 1456.6,1253.6 1460.2,1253.6 1463.8,1253.6 1467.4,1253.6 1471.0,1253.6 1474.6,1253.6 1478.2,1253.6 1481.8,1253.6 1485.5,1253.6 1489.1,1253.6 1492.7,1253.6 1496.4,1253.6 1500.0,1253.6 1502.6,1253.6 1505.3,1253.6 1508.0,1253.6 1510.8,1253.6 1513.6,1253.6 1516.5,1253.6 1519.4,1253.6 1522.4,1253.6 1525.4,1253.6 1528.5,1253.6 1531.6,1253.6 1534.8,1253.6 1538.0,1253.6 1541.3,1253.6 1544.5,1253.6 1547.8,1253.6 1551.2,1253.6 1554.5,1253.6 1557.9,1253.6 1561.4,1253.6 1564.8,1253.6 1568.3,1253.6 1571.7,1253.6 1575.2,1253.6 1578.7,1253.6 1582.3,1253.6 1585.8,1253.6 1589.3,1253.6 1592.9,1253.6 1596.4,1253.6 1600.0,1253.6 1603.5,1253.6 1607.1,1253.6 1610.6,1253.6 1614.1,1253.6 1617.7,1253.6 1621.2,1253.6 1624.7,1253.6 1628.2,1253.6 1631.6,1253.6 1635.1,1253.6 1638.5,1253.6 1641.9,1253.6 1645.3,1253.6 1648.7,1253.6 1652.0,1253.6 1655.3,1253.6 1658.5,1253.6 1661.7,1253.6 1664.9,1253.6 1668.1,1253.6 1671.2,1253.6 1674.2,1253.6 1677.2,1253.6 1680.2,1253.6 1683.1,1253.6 1686.0,1253.6 1688.8,1253.6 1691.5,1253.6 1694.2,1253.6 1696.8,1253.6 1699.4,1253.6 1701.9,1253.6 1704.3,1253.6 1706.7,1253.6 1709.0,1253.6 1711.2,1253.6 1713.3,1253.6 1715.4,1253.6 1717.4,1253.6 1719.3,1253.6 1721.1,1253.6 1722.8,1253.6 1724.4,1253.6 1726.0,1253.6" stroke="#0a0a0a" stroke-width="7" stroke-dasharray="22 15.50" stroke-dashoffset="23.1"/>
<path d="M151.0,1253.6 152.7,1253.6 154.8,1253.6 157.1,1253.6 159.8,1253.6 162.7,1253.6 165.7,1253.6 169.0,1253.6 172.4,1253.6 175.9,1253.6 179.4,1253.6 183.0,1253.6 186.5,1253.6 190.1,1253.6 193.5,1253.6 196.8,1253.6 200.0,1253.6 203.1,1253.6 206.4,1253.6 209.6,1253.6 213.0,1253.6 216.3,1253.6 219.7,1253.6 223.0,1253.6 226.4,1253.6 229.7,1253.6 232.9,1253.6 236.0,1253.6 239.1,1253.6 242.0,1253.6 244.8,1253.6 247.5,1253.6 250.0,1253.6 254.0,1253.4 257.5,1253.1 260.6,1252.8 263.4,1252.5 266.0,1252.1 268.6,1251.7 271.2,1251.2 274.0,1250.6 277.0,1250.0 279.9,1249.4 283.0,1248.9 286.1,1248.4 289.2,1247.9 292.4,1247.3 295.6,1246.5 298.7,1245.7 301.8,1244.7 304.8,1243.4 307.7,1242.0 310.3,1240.4 312.9,1238.7 315.4,1236.7 317.9,1234.7 320.3,1232.5 322.7,1230.2 325.0,1227.8 327.4,1225.4 329.6,1222.9 331.8,1220.4 333.9,1217.9 335.8,1215.5 337.7,1213.1 339.5,1210.6 341.3,1208.1 343.0,1205.5 344.7,1202.9 346.3,1200.2 347.9,1197.6 349.5,1194.8 351.0,1192.1 352.4,1189.4 353.9,1186.6 355.2,1183.8 356.6,1181.0 357.8,1178.2 359.0,1175.3 360.2,1172.4 361.3,1169.5 362.4,1166.5 363.5,1163.6 364.5,1160.6 365.6,1157.7 366.6,1154.7 367.7,1151.8 368.8,1148.8 369.8,1145.9 370.8,1143.0 371.9,1140.0 372.9,1137.1 373.9,1134.1 374.8,1131.1 375.8,1128.1 376.7,1125.1 377.7,1122.1 378.6,1119.1 379.5,1116.1 380.4,1113.0 381.3,1109.9 382.1,1106.8 383.0,1103.7 383.8,1100.5 384.6,1097.4 385.4,1094.2 386.2,1091.1 387.0,1087.9 387.8,1084.8 388.5,1081.7 389.2,1078.6 389.9,1075.5 390.6,1072.4 391.2,1069.4 391.9,1066.3 392.4,1063.3 393.0,1060.3 393.6,1057.2 394.2,1054.2 394.9,1051.2 395.5,1048.1 396.2,1045.0 397.0,1042.0 397.7,1039.1 398.5,1036.2 399.3,1033.4 400.2,1030.5 401.0,1027.6 401.9,1024.7 402.8,1021.8 403.7,1018.9 404.6,1016.0 405.5,1013.1 406.3,1010.2 407.2,1007.3 408.0,1004.5 408.9,1001.4 409.7,998.3 410.6,995.3 411.4,992.2 412.2,989.2 413.1,986.2 413.9,983.1 414.7,980.1 415.5,977.1 416.3,974.0 417.2,970.9 418.0,967.9 418.8,964.8 419.7,961.6 420.5,958.5 421.4,955.4 422.3,952.3 423.1,949.1 424.0,946.0 424.8,942.8 425.6,939.7 426.4,936.6 427.2,933.5 428.0,930.4 428.7,927.3 429.4,924.2 430.1,921.1 430.8,918.1 431.4,915.0 432.1,911.9 432.7,908.9 433.3,905.9 434.0,902.8 434.6,899.8 435.3,896.8 436.0,893.7 436.7,890.7 437.4,887.8 438.2,884.8 438.9,881.8 439.6,878.9 440.4,875.9 441.1,873.0 441.9,870.0 442.7,867.1 443.5,864.1 444.2,861.1 445.0,858.0 445.8,855.0 446.7,851.9 447.5,848.7 448.3,845.6 449.2,842.4 450.0,839.2 450.9,836.1 451.8,832.9 452.6,829.8 453.5,826.7 454.3,823.6 455.2,820.5 456.0,817.6 456.9,814.6 457.7,811.7 458.6,808.9 459.4,806.0 460.3,803.2 461.1,800.3 461.9,797.5 462.8,794.6 463.6,791.7 464.4,788.7 465.2,785.7 465.9,782.9 466.6,780.0 467.3,777.1 468.0,774.1 468.7,771.1 469.4,768.1 470.1,765.1 470.7,762.1 471.4,759.1 472.0,756.1 472.7,753.2 473.4,750.2 474.0,747.3 474.7,744.2 475.3,741.1 476.0,738.0 476.6,735.0 477.2,731.9 477.9,728.9 478.5,725.9 479.1,722.9 479.8,719.8 480.5,716.8 481.2,713.8 482.0,710.7 482.8,707.7 483.7,704.6 484.5,701.5 485.4,698.5 486.4,695.4 487.3,692.4 488.3,689.3 489.2,686.2 490.2,683.2 491.1,680.2 492.1,677.1 493.0,674.1 493.9,671.1 494.8,668.1 495.7,665.1 496.6,662.1 497.5,659.1 498.4,656.1 499.3,653.2 500.2,650.2 501.1,647.2 502.1,644.3 503.0,641.3 504.0,638.4 505.0,635.4 506.1,632.4 507.2,629.4 508.3,626.3 509.4,623.2 510.5,620.2 511.6,617.2 512.7,614.3 513.8,611.4 514.9,608.7 516.0,606.1 517.0,603.6 518.5,600.1 519.9,596.9 521.2,594.0 522.6,591.2 523.9,588.5 525.2,585.8 526.6,583.1 528.0,580.4 529.4,577.6 530.8,574.9 532.2,572.3 533.6,569.7 535.1,567.0 536.6,564.2 538.3,561.2 540.0,558.0 541.4,555.5 542.8,552.9 544.3,550.2 545.8,547.4 547.4,544.6 549.0,541.7 550.6,538.7 552.2,535.7 553.8,532.8 555.4,529.8 557.0,526.8" stroke="#d98a32" stroke-width="7" stroke-dasharray="22 15.75" stroke-dashoffset="2.2"/>
<path d="M557.0,526.8 558.4,524.0 559.8,521.3 561.2,518.4 562.7,515.6 564.1,512.7 565.5,509.8 566.9,506.9 568.3,504.1 569.8,501.2 571.2,498.4 572.6,495.6 574.0,492.9 575.5,489.9 577.1,487.0 578.6,484.2 580.1,481.3 581.6,478.5 583.1,475.7 584.7,472.9 586.2,470.1 587.8,467.3 589.4,464.5 591.0,461.6 592.5,458.9 594.1,456.2 595.6,453.4 597.2,450.6 598.8,447.8 600.4,445.0 602.0,442.2 603.6,439.5 605.2,436.8 606.8,434.3 608.4,431.8 610.0,429.5 612.1,426.5 614.2,423.8 616.3,421.2 618.4,418.7 620.6,416.3 622.7,414.0 624.8,411.7 626.9,409.5 629.0,407.1 631.1,404.8 633.3,402.4 635.4,400.1 637.6,397.8 639.7,395.5 641.8,393.4 643.9,391.3 646.0,389.3 648.0,387.5 651.0,384.9 653.9,382.4 656.8,380.1 659.6,378.1 662.3,376.7 665.0,375.9 668.1,375.9 671.1,376.8 674.1,378.3 677.0,380.2 680.0,382.1 682.5,383.8 684.9,385.8 687.4,387.9 689.9,390.1 692.4,392.4 695.0,394.6 697.3,396.6 699.7,398.8 702.2,401.0 704.7,403.1 707.2,405.3 709.6,407.2 712.0,408.9 715.2,411.0 718.4,412.9 721.6,414.5 724.8,415.9 728.0,417.0 731.3,417.8 734.7,418.4 738.2,418.7 741.6,418.8 745.0,418.7 748.2,418.6 751.1,418.5 754.1,418.0 757.6,417.0 762.0,415.2 764.1,414.1 766.5,412.8 768.9,411.3 771.5,409.6 774.2,407.8 777.0,406.0 779.8,404.1 782.7,402.2 785.6,400.4 788.4,398.6 791.3,397.0 794.0,395.5 797.0,394.0 800.2,392.5 803.4,391.0 806.6,389.6 809.9,388.2 813.1,386.9 816.2,385.6 819.2,384.5 822.0,383.6 824.6,382.8 827.0,382.1 831.3,381.4 834.6,381.4 837.4,382.0 840.1,382.9 843.0,383.9 845.5,384.8 847.9,385.7 850.2,386.9 852.8,388.4 855.6,390.3 859.0,392.9 861.0,394.4 863.1,396.0 865.5,397.8 867.9,399.6 870.5,401.6 873.1,403.7 875.6,406.0 878.2,408.3 880.6,410.7 882.9,413.3 885.1,416.0 887.0,418.7 888.5,421.3 889.8,423.9 891.1,426.7 892.3,429.6 893.4,432.7 894.4,435.8 895.4,438.9 896.4,442.1 897.3,445.3 898.2,448.5 899.2,451.6 900.1,454.7 901.0,457.8 902.0,460.7 903.1,463.8 904.1,466.9 905.1,469.9 906.1,472.8 907.1,475.8 908.1,478.7 909.1,481.7 910.1,484.6 911.1,487.6 912.0,490.6 913.0,493.7 914.0,496.8 915.0,500.0 915.9,502.8 916.7,505.7 917.6,508.6 918.5,511.5 919.4,514.5 920.2,517.5 921.1,520.5 922.0,523.5 922.9,526.5 923.7,529.6 924.6,532.6 925.5,535.6 926.3,538.6 927.2,541.7 928.0,544.6 928.8,547.6 929.7,550.6 930.5,553.6 931.3,556.7 932.1,559.7 933.0,562.7 933.8,565.7 934.6,568.7 935.4,571.8 936.2,574.7 937.0,577.7 937.7,580.6 938.5,583.6 939.3,586.4 940.0,589.3 940.8,592.5 941.6,595.7 942.4,598.8 943.2,601.8 943.9,604.8 944.7,607.8 945.4,610.8 946.2,613.8 946.9,616.9 947.7,619.9 948.4,623.0 949.2,626.2 950.0,629.5 950.7,632.4 951.4,635.3 952.2,638.4 952.9,641.5 953.7,644.6 954.4,647.7 955.2,650.9 955.9,654.0 956.7,657.2 957.4,660.3 958.2,663.4 958.9,666.4 959.6,669.3 960.3,672.2 961.0,675.0 961.8,678.4 962.6,681.6 963.4,684.7 964.1,687.8 964.9,690.8 965.6,693.8 966.4,696.7 967.1,699.6 967.8,702.5 968.5,705.5 969.3,708.5 970.0,711.6 970.7,714.5 971.4,717.5 972.1,720.4 972.8,723.4 973.5,726.4 974.2,729.4 974.9,732.4 975.6,735.4 976.3,738.4 977.0,741.3 977.7,744.3 978.3,747.2 979.0,750.0 979.8,753.3 980.5,756.5 981.2,759.7 981.9,762.8 982.6,765.9 983.3,769.0 984.0,772.0 984.7,775.2 985.4,778.3 986.2,781.5 987.0,784.8 987.7,787.7 988.4,790.6 989.2,793.5 989.9,796.5 990.7,799.4 991.5,802.5 992.3,805.5 993.1,808.5 993.9,811.5 994.7,814.5 995.4,817.4 996.2,820.3 997.0,823.2 997.8,826.3 998.6,829.3 999.4,832.2 1000.1,835.2" stroke="#d98a32" stroke-width="7" stroke-dasharray="22 15.25" stroke-dashoffset="10.3"/>
<path d="M1000.1,835.2 1000.9,838.1 1001.7,841.0 1002.5,843.9 1003.3,846.9 1004.1,849.8 1005.0,852.8 1006.0,855.8 1007.0,858.9 1007.9,861.6 1008.9,864.4 1009.8,867.2 1010.9,870.0 1011.9,872.9 1013.0,875.8 1014.1,878.7 1015.2,881.6 1016.3,884.4 1017.4,887.3 1018.6,890.1 1019.7,892.9 1020.9,895.6 1022.0,898.2 1023.3,901.2 1024.7,904.1 1026.1,906.8 1027.5,909.5 1028.9,912.2 1030.4,914.8 1031.8,917.5 1033.3,920.2 1034.7,923.0 1036.1,925.9 1037.6,929.0 1039.0,932.1 1040.1,934.8 1041.2,937.7 1042.3,940.6 1043.3,943.7 1044.3,946.8 1045.4,949.9 1046.4,953.1 1047.5,956.3 1048.6,959.4 1049.7,962.6 1050.8,965.6 1052.0,968.6 1053.3,971.5 1054.6,974.2 1056.0,976.8 1057.7,979.6 1059.4,982.4 1061.2,985.1 1063.0,987.7 1064.8,990.3 1066.8,992.7 1068.7,995.1 1070.8,997.4 1072.9,999.5 1075.1,1001.6 1077.3,1003.5 1079.6,1005.4 1082.0,1007.1 1084.5,1008.8 1087.1,1010.2 1089.8,1011.6 1092.6,1012.9 1095.5,1014.0 1098.5,1015.1 1101.4,1016.0 1104.4,1016.9 1107.4,1017.8 1110.4,1018.5 1113.3,1019.2 1116.2,1019.9 1119.0,1020.5 1122.3,1021.1 1125.5,1021.5 1128.7,1021.7 1131.8,1021.8 1135.0,1021.8 1138.1,1021.8 1141.3,1021.8 1144.4,1021.9 1147.6,1022.1 1150.8,1022.5 1154.0,1023.2 1156.7,1024.0 1159.5,1024.8 1162.3,1025.8 1165.1,1026.8 1168.0,1028.0 1170.8,1029.2 1173.6,1030.4 1176.4,1031.7 1179.2,1033.0 1181.9,1034.4 1184.7,1035.7 1187.4,1037.1 1190.0,1038.4 1192.8,1039.8 1195.6,1041.2 1198.3,1042.6 1201.0,1044.1 1203.6,1045.5 1206.2,1047.0 1208.9,1048.6 1211.5,1050.2 1214.1,1051.8 1216.7,1053.5 1219.3,1055.3 1222.0,1057.1 1224.5,1058.9 1227.0,1060.7 1229.6,1062.6 1232.2,1064.6 1234.8,1066.5 1237.4,1068.6 1240.0,1070.6 1242.5,1072.7 1245.0,1074.9 1247.4,1077.1 1249.7,1079.3 1251.9,1081.6 1254.0,1083.9 1256.0,1086.3 1257.8,1088.7 1259.6,1091.1 1261.3,1093.5 1262.9,1096.1 1264.5,1098.6 1266.0,1101.2 1267.5,1103.8 1269.0,1106.5 1270.4,1109.3 1271.9,1112.1 1273.4,1114.9 1275.0,1117.9 1276.4,1120.5 1277.7,1123.1 1279.1,1125.8 1280.5,1128.6 1281.9,1131.4 1283.2,1134.3 1284.6,1137.2 1285.9,1140.1 1287.3,1143.0 1288.6,1146.0 1289.9,1148.9 1291.2,1151.9 1292.5,1154.8 1293.8,1157.8 1295.0,1160.7 1296.2,1163.6 1297.5,1166.5 1298.7,1169.5 1299.9,1172.4 1301.1,1175.3 1302.3,1178.3 1303.4,1181.2 1304.6,1184.2 1305.7,1187.2 1306.8,1190.1 1307.9,1193.1 1309.0,1196.2 1310.0,1199.2 1311.0,1202.3 1312.0,1205.4 1312.9,1208.4 1313.7,1211.5 1314.5,1214.9 1315.3,1218.3 1316.0,1221.8 1316.7,1225.3 1317.4,1228.8 1318.1,1232.3 1318.8,1235.6 1319.5,1238.9 1320.2,1241.9 1320.9,1244.8 1321.6,1247.5 1322.4,1249.8 1323.2,1251.9 1324.0,1253.6 1324.5,1253.6 1322.8,1253.6 1322.3,1253.6 1326.6,1253.6 1339.0,1253.6 1340.7,1253.6 1342.5,1253.6 1344.3,1253.6 1346.3,1253.6 1348.3,1253.6 1350.4,1253.6 1352.5,1253.6 1354.7,1253.6 1357.0,1253.6 1359.4,1253.6 1361.8,1253.6 1364.3,1253.6 1366.8,1253.6 1369.4,1253.6 1372.1,1253.6 1374.8,1253.6 1377.6,1253.6 1380.4,1253.6 1383.3,1253.6 1386.2,1253.6 1389.2,1253.6 1392.2,1253.6 1395.3,1253.6 1398.4,1253.6 1401.5,1253.6 1404.7,1253.6 1407.9,1253.6 1411.2,1253.6 1414.5,1253.6 1417.8,1253.6 1421.2,1253.6 1424.6,1253.6 1428.0,1253.6 1431.5,1253.6 1434.9,1253.6 1438.4,1253.6 1442.0,1253.6 1445.5,1253.6 1449.1,1253.6 1452.7,1253.6 1456.2,1253.6 1459.9,1253.6 1463.5,1253.6 1467.1,1253.6 1470.7,1253.6 1474.4,1253.6 1478.1,1253.6 1481.7,1253.6 1485.4,1253.6 1489.0,1253.6 1492.7,1253.6 1496.3,1253.6 1500.0,1253.6 1502.6,1253.6 1505.3,1253.6 1508.0,1253.6 1510.8,1253.6 1513.6,1253.6 1516.5,1253.6 1519.5,1253.6 1522.5,1253.6 1525.5,1253.6 1528.6,1253.6 1531.7,1253.6 1534.9,1253.6 1538.1,1253.6 1541.4,1253.6 1544.7,1253.6 1548.0,1253.6 1551.3,1253.6 1554.7,1253.6 1558.1,1253.6 1561.5,1253.6 1564.9,1253.6 1568.4,1253.6 1571.9,1253.6 1575.4,1253.6 1578.9,1253.6 1582.4,1253.6 1585.9,1253.6 1589.5,1253.6 1593.0,1253.6 1596.6,1253.6 1600.1,1253.6 1603.7,1253.6 1607.2,1253.6 1610.7,1253.6 1614.3,1253.6 1617.8,1253.6 1621.3,1253.6 1624.8,1253.6 1628.3,1253.6 1631.8,1253.6 1635.2,1253.6 1638.6,1253.6 1642.0,1253.6 1645.4,1253.6 1648.8,1253.6 1652.1,1253.6 1655.4,1253.6 1658.6,1253.6 1661.8,1253.6 1665.0,1253.6 1668.1,1253.6 1671.2,1253.6 1674.3,1253.6 1677.3,1253.6 1680.2,1253.6 1683.1,1253.6 1686.0,1253.6 1688.8,1253.6 1691.5,1253.6 1694.2,1253.6 1696.8,1253.6 1699.4,1253.6 1701.9,1253.6 1704.3,1253.6 1706.7,1253.6 1709.0,1253.6 1711.2,1253.6 1713.3,1253.6 1715.4,1253.6 1717.4,1253.6 1719.3,1253.6 1721.1,1253.6 1722.8,1253.6 1724.4,1253.6 1726.0,1253.6" stroke="#d98a32" stroke-width="7" stroke-dasharray="22 17.00" stroke-dashoffset="15.2"/>
<path d="M151.0,1253.6 152.7,1253.6 154.8,1253.6 157.1,1253.6 159.8,1253.6 162.7,1253.6 165.7,1253.6 169.0,1253.6 172.4,1253.6 175.9,1253.6 179.4,1253.6 183.0,1253.6 186.5,1253.6 190.1,1253.6 193.5,1253.6 196.8,1253.6 200.0,1253.6 203.1,1253.6 206.4,1253.6 209.6,1253.6 213.0,1253.6 216.3,1253.6 219.7,1253.6 223.0,1253.6 226.4,1253.6 229.7,1253.6 232.9,1253.6 236.0,1253.6 239.1,1253.6 242.0,1253.6 244.8,1253.6 247.5,1253.6 250.0,1253.6 254.0,1253.4 257.5,1253.1 260.6,1252.8 263.4,1252.5 266.0,1252.1 268.6,1251.7 271.2,1251.2 274.0,1250.6 277.0,1250.0 280.0,1249.4 283.0,1248.9 286.1,1248.4 289.3,1247.9 292.5,1247.3 295.7,1246.5 298.8,1245.7 302.0,1244.7 305.0,1243.4 308.0,1242.0 310.4,1240.5 312.7,1239.0 315.1,1237.2 317.4,1235.4 319.7,1233.4 322.0,1231.4 324.3,1229.2 326.5,1227.0 328.6,1224.8 330.7,1222.5 332.8,1220.2 334.8,1217.9 336.8,1215.5 338.7,1213.1 340.6,1210.6 342.4,1208.1 344.2,1205.5 346.0,1202.9 347.7,1200.2 349.4,1197.6 351.0,1194.8 352.6,1192.1 354.1,1189.4 355.6,1186.6 357.1,1183.8 358.5,1181.0 359.8,1178.2 361.1,1175.3 362.3,1172.4 363.5,1169.5 364.7,1166.5 365.9,1163.6 367.0,1160.6 368.2,1157.7 369.3,1154.7 370.4,1151.8 371.6,1148.8 372.7,1145.9 373.8,1143.0 374.9,1140.0 376.0,1137.1 377.1,1134.1 378.2,1131.1 379.2,1128.1 380.2,1125.1 381.3,1122.1 382.3,1119.1 383.2,1116.1 384.2,1113.2 385.0,1110.4 385.9,1107.5 386.8,1104.6 387.7,1101.7 388.5,1098.8 389.4,1095.9 390.2,1093.0 391.0,1090.1 391.8,1087.2 392.6,1084.3 393.3,1081.4 394.0,1078.6 394.8,1075.5 395.5,1072.4 396.2,1069.4 396.8,1066.3 397.4,1063.3 398.0,1060.3 398.6,1057.2 399.2,1054.2 399.9,1051.2 400.5,1048.1 401.2,1045.0 402.0,1042.0 402.7,1039.1 403.5,1036.2 404.4,1033.4 405.2,1030.5 406.1,1027.6 406.9,1024.7 407.8,1021.8 408.7,1018.9 409.6,1016.0 410.5,1013.1 411.3,1010.2 412.2,1007.3 413.0,1004.5 413.9,1001.4 414.7,998.3 415.6,995.3 416.4,992.2 417.2,989.2 418.1,986.2 418.9,983.1 419.7,980.1 420.5,977.1 421.3,974.0 422.2,970.9 423.0,967.9 423.8,964.8 424.7,961.6 425.5,958.5 426.4,955.4 427.3,952.3 428.1,949.1 429.0,946.0 429.8,942.8 430.6,939.7 431.4,936.6 432.2,933.5 433.0,930.4 433.7,927.3 434.5,924.2 435.2,921.1 435.9,918.1 436.6,915.0 437.2,911.9 437.9,908.9 438.5,905.9 439.2,902.8 439.8,899.8 440.4,896.8 441.0,893.7 441.6,890.7 442.2,887.8 442.7,884.8 443.2,881.8 443.7,878.9 444.3,875.9 444.8,873.0 445.3,870.0 445.8,867.1 446.3,864.1 446.9,861.1 447.4,858.0 448.0,855.0 448.6,851.9 449.2,848.7 449.8,845.6 450.4,842.4 451.0,839.2 451.7,836.1 452.3,832.9 452.9,829.8 453.5,826.7 454.1,823.6 454.8,820.5 455.4,817.3 456.1,814.1 456.8,810.9 457.5,807.8 458.2,804.7 458.9,801.6 459.5,798.5 460.2,795.4 460.9,792.2 461.5,789.0 462.2,785.7 462.8,782.6 463.4,779.5 463.9,776.3 464.5,773.1 465.0,769.9 465.6,766.6 466.1,763.4 466.7,760.1 467.2,756.9 467.8,753.7 468.4,750.5 469.0,747.3 469.6,744.2 470.2,741.1 470.8,738.0 471.5,735.0 472.1,731.9 472.7,728.9 473.4,725.9 474.1,722.9 474.8,719.8 475.5,716.8 476.2,713.8 477.0,710.7 477.8,707.7 478.7,704.6 479.5,701.5 480.4,698.5 481.4,695.4 482.3,692.4 483.3,689.3 484.2,686.2 485.2,683.2 486.1,680.2 487.1,677.1 488.0,674.1 488.9,671.1 489.9,668.1 490.9,665.1 491.9,662.2 492.8,659.2 493.8,656.2 494.8,653.3 495.7,650.3 496.6,647.4 497.5,644.4 498.3,641.4 499.0,638.4 499.7,635.4 500.3,632.3 500.8,629.3 501.3,626.3 501.7,623.2 502.1,620.1 502.5,617.1 503.0,614.0 503.4,611.0 503.9,607.9 504.4,604.8 505.0,601.8 505.6,598.7 506.3,595.7 507.0,592.6 507.8,589.6 508.5,586.5 509.3,583.5 510.1,580.4 510.9,577.4 511.7,574.3 512.5,571.3 513.2,568.2 514.0,565.2 514.7,562.1 515.5,559.1 516.2,556.1 517.0,553.1 517.7,550.1 518.4,547.1 519.2,544.1 519.9,541.0 520.7,538.0 521.4,534.9 522.2,531.7 523.0,528.6 523.7,525.6 524.5,522.5 525.2,519.5 526.0,516.3 526.7,513.2 527.5,510.0 528.3,506.8 529.0,503.7 529.8,500.5 530.6,497.4 531.4,494.4 532.2,491.3 533.0,488.4 533.9,485.3 534.7,482.2 535.6,479.2 536.5,476.2 537.4,473.3 538.2,470.4 539.2,467.5 540.1,464.6 541.0,461.6 542.0,458.7 543.0,455.7 544.0,452.7" stroke="#00c45a" stroke-width="7" stroke-dasharray="22 15.75" stroke-dashoffset="2.2"/>
<path d="M544.0,452.7 545.0,449.8 546.0,447.0 547.0,444.1 548.0,441.1 549.1,438.2 550.1,435.2 551.2,432.3 552.3,429.4 553.4,426.4 554.6,423.6 555.7,420.7 556.8,417.9 558.0,415.2 559.3,412.2 560.6,409.3 561.9,406.3 563.2,403.3 564.5,400.4 565.9,397.5 567.2,394.7 568.6,392.0 570.0,389.4 571.3,386.8 572.7,384.4 574.0,382.1 576.0,378.9 577.9,375.7 579.9,372.8 581.8,370.0 583.8,367.6 585.8,365.5 587.9,363.8 590.0,362.5 592.9,361.5 596.0,361.0 599.1,361.3 602.3,362.2 605.6,363.8 609.0,366.1 610.8,367.6 612.6,369.4 614.5,371.4 616.4,373.7 618.4,376.1 620.4,378.7 622.4,381.3 624.3,384.1 626.3,386.8 628.2,389.5 630.1,392.1 632.0,394.6 633.8,397.1 635.6,399.6 637.4,402.0 639.1,404.5 640.9,407.0 642.6,409.5 644.4,412.1 646.1,414.6 647.8,417.2 649.5,419.8 651.3,422.4 653.0,425.0 654.6,427.5 656.2,430.0 657.8,432.5 659.4,435.1 661.0,437.7 662.6,440.3 664.2,442.9 665.8,445.5 667.4,448.1 669.0,450.7 670.7,453.2 672.3,455.6 674.0,458.0 675.9,460.6 677.8,463.3 679.8,466.0 681.8,468.8 683.8,471.4 685.8,474.1 687.8,476.6 689.8,479.0 691.7,481.2 693.5,483.2 695.3,485.1 697.0,486.6 700.6,489.4 703.9,491.2 706.9,492.2 709.8,492.4 713.0,492.0 715.7,491.1 718.3,489.7 720.9,487.9 723.7,485.6 726.7,483.1 730.0,480.4 732.0,478.7 734.3,476.7 736.7,474.5 739.3,472.2 741.8,469.8 744.4,467.4 746.9,465.1 749.3,462.9 751.4,461.0 753.4,459.3 755.0,458.0 757.9,456.6 762.0,456.2 763.9,455.5 766.2,454.6 768.8,453.6 771.6,452.4 774.6,451.2 777.8,449.9 781.0,448.5 784.3,447.2 787.6,445.8 790.8,444.5 794.0,443.2 797.0,442.0 800.0,440.7 803.0,439.4 806.1,438.1 809.3,436.7 812.4,435.4 815.6,434.0 818.6,432.7 821.6,431.5 824.4,430.4 827.2,429.3 829.7,428.4 832.0,427.7 836.0,426.6 839.3,425.9 842.1,425.6 844.6,425.6 847.2,425.7 850.0,425.9 852.9,426.1 855.7,426.3 858.5,426.7 861.4,427.4 864.5,428.6 868.0,430.4 870.1,431.6 872.3,432.9 874.6,434.5 877.1,436.1 879.6,437.9 882.1,439.8 884.6,441.8 887.1,444.0 889.5,446.2 891.8,448.5 894.0,450.9 895.8,453.0 897.6,455.3 899.4,457.6 901.1,460.0 902.8,462.6 904.5,465.2 906.1,467.8 907.7,470.5 909.3,473.2 910.8,475.9 912.3,478.6 913.7,481.3 915.0,483.9 916.4,486.8 917.7,489.7 919.0,492.6 920.2,495.5 921.3,498.5 922.4,501.5 923.5,504.4 924.5,507.4 925.4,510.5 926.3,513.5 927.2,516.6 928.0,519.6 928.8,522.8 929.4,525.9 930.0,529.1 930.6,532.4 931.1,535.6 931.6,538.9 932.0,542.2 932.4,545.4 932.8,548.6 933.2,551.8 933.6,555.0 934.0,558.0 934.4,561.3 934.9,564.6 935.3,567.7 935.6,570.9 936.0,574.0 936.4,577.1 936.7,580.2 937.0,583.3 937.4,586.5 937.7,589.6 938.0,592.9 938.3,595.8 938.5,598.9 938.8,601.9 939.0,605.0 939.3,608.0 939.5,611.1 939.7,614.2 940.0,617.3 940.2,620.3 940.5,623.4 940.7,626.4 941.0,629.5 941.3,632.7 941.7,635.9 942.0,639.1 942.3,642.3 942.7,645.4 943.1,648.6 943.4,651.8 943.8,655.0 944.2,658.3 944.6,661.7 945.0,665.2 945.3,668.0 945.6,670.9 945.9,673.8 946.2,676.8 946.5,679.9 946.9,683.0 947.2,686.0 947.5,689.1 947.9,692.2 948.3,695.3 948.6,698.3 949.1,701.3 949.5,704.3 950.0,707.1 950.6,710.4 951.3,713.7 951.9,716.9 952.7,720.1 953.4,723.3 954.2,726.4 955.0,729.5 955.8,732.6 956.6,735.6 957.4,738.7 958.2,741.7 959.0,744.6 959.9,747.8 960.8,751.0 961.7,754.0 962.6,757.0 963.6,760.0 964.5,763.0 965.5,766.0 966.4,769.0 967.3,772.1 968.2,775.3 969.0,778.6 969.7,781.4 970.4,784.3 971.0,787.3 971.7,790.4 972.3,793.4 972.9,796.5 973.6,799.6 974.2,802.7 974.8,805.8 975.3,808.9 975.9,811.9 976.5,814.9 977.0,817.9 977.6,821.0 978.1,824.1 978.6,827.2 979.1,830.3 979.5,833.3 980.0,836.3 980.5,839.3 980.9,842.4 981.4,845.4 981.9,848.4 982.4,851.4 983.0,854.5 983.6,857.5 984.2,860.5 984.7,863.5 985.3,866.5 985.9,869.5 986.6,872.5 987.2,875.6 987.9,878.6 988.6,881.7 989.4,884.8 990.2,887.9 991.0,891.1 991.8,893.8 992.6,896.6 993.4,899.5 994.3,902.3 995.2,905.2 996.1,908.1 997.1,911.0 998.0,913.9 999.0,916.8 1000.0,919.7 1001.0,922.6" stroke="#00c45a" stroke-width="7" stroke-dasharray="22 16.00" stroke-dashoffset="4.6"/>
<path d="M1001.0,922.6 1002.0,925.5 1003.0,928.4 1004.0,931.2 1005.0,934.1 1006.0,937.0 1007.0,939.9 1008.1,942.7 1009.1,945.6 1010.2,948.5 1011.2,951.4 1012.3,954.2 1013.4,957.1 1014.5,959.9 1015.6,962.6 1016.7,965.3 1017.9,968.0 1019.0,970.5 1020.4,973.5 1021.8,976.5 1023.2,979.5 1024.6,982.4 1026.1,985.3 1027.6,988.1 1029.0,990.9 1030.5,993.5 1031.9,996.0 1033.3,998.4 1034.7,1000.6 1036.0,1002.7 1038.5,1006.3 1040.7,1009.4 1042.9,1011.9 1045.1,1014.2 1047.5,1016.1 1050.0,1017.9 1052.8,1019.4 1055.7,1020.7 1058.8,1021.7 1061.9,1022.5 1065.0,1023.0 1068.0,1023.2 1071.5,1023.1 1074.9,1022.6 1078.2,1021.8 1081.6,1020.8 1085.0,1019.6 1087.8,1018.6 1090.6,1017.4 1093.4,1016.1 1096.3,1014.7 1099.1,1013.2 1102.0,1011.6 1104.5,1010.1 1107.1,1008.5 1109.6,1006.8 1112.2,1005.0 1114.8,1003.3 1117.4,1001.6 1120.0,1000.0 1123.0,998.2 1125.9,996.4 1128.8,994.6 1131.7,993.0 1134.8,991.5 1138.0,990.2 1141.0,989.2 1144.1,988.4 1147.4,987.6 1150.7,987.0 1154.0,986.4 1157.1,986.0 1160.0,985.7 1163.5,985.2 1166.5,984.7 1169.4,984.6 1172.8,985.1 1177.0,986.6 1179.1,987.6 1181.5,988.8 1184.0,990.2 1186.6,991.8 1189.4,993.5 1192.2,995.3 1195.0,997.1 1197.8,999.1 1200.6,1001.1 1203.2,1003.1 1205.7,1005.2 1208.0,1007.1 1210.3,1009.3 1212.5,1011.6 1214.6,1013.9 1216.7,1016.3 1218.6,1018.7 1220.5,1021.2 1222.4,1023.7 1224.2,1026.2 1226.1,1028.8 1228.0,1031.3 1230.0,1033.9 1231.8,1036.3 1233.7,1038.7 1235.6,1041.1 1237.4,1043.6 1239.3,1046.0 1241.2,1048.5 1243.0,1051.0 1244.9,1053.6 1246.7,1056.2 1248.5,1058.8 1250.3,1061.5 1252.0,1064.3 1253.6,1066.9 1255.1,1069.6 1256.6,1072.4 1258.1,1075.2 1259.6,1078.1 1261.1,1081.0 1262.5,1083.9 1264.0,1086.9 1265.4,1089.8 1266.8,1092.6 1268.2,1095.4 1269.6,1098.2 1271.0,1100.9 1272.5,1103.7 1274.0,1106.4 1275.5,1109.1 1276.9,1111.7 1278.4,1114.2 1279.8,1116.8 1281.2,1119.4 1282.6,1122.0 1284.0,1124.6 1285.4,1127.3 1286.7,1130.1 1288.0,1133.0 1289.2,1135.8 1290.3,1138.7 1291.4,1141.6 1292.5,1144.5 1293.5,1147.5 1294.5,1150.6 1295.6,1153.7 1296.6,1156.8 1297.6,1159.9 1298.7,1163.0 1299.8,1166.1 1300.9,1169.2 1302.0,1172.3 1303.1,1175.2 1304.2,1178.2 1305.3,1181.3 1306.4,1184.4 1307.6,1187.5 1308.7,1190.6 1309.9,1193.7 1311.0,1196.8 1312.2,1199.8 1313.4,1202.8 1314.5,1205.6 1315.7,1208.4 1316.9,1210.9 1318.0,1213.4 1319.8,1216.9 1321.7,1220.2 1323.6,1223.3 1325.6,1226.1 1327.4,1228.8 1329.3,1231.4 1331.0,1233.8 1332.6,1236.1 1334.0,1238.4 1336.0,1242.3 1337.4,1245.9 1338.7,1249.1 1340.1,1251.7 1342.0,1253.6 1342.5,1253.6 1341.4,1253.6 1341.4,1253.6 1345.7,1253.6 1357.0,1253.6 1358.7,1253.6 1360.5,1253.6 1362.4,1253.6 1364.3,1253.6 1366.4,1253.6 1368.4,1253.6 1370.6,1253.6 1372.8,1253.6 1375.1,1253.6 1377.5,1253.6 1379.9,1253.6 1382.4,1253.6 1385.0,1253.6 1387.6,1253.6 1390.3,1253.6 1393.0,1253.6 1395.8,1253.6 1398.7,1253.6 1401.6,1253.6 1404.5,1253.6 1407.6,1253.6 1410.6,1253.6 1413.7,1253.6 1416.9,1253.6 1420.1,1253.6 1423.4,1253.6 1426.7,1253.6 1430.0,1253.6 1433.4,1253.6 1436.8,1253.6 1440.3,1253.6 1443.8,1253.6 1447.3,1253.6 1450.9,1253.6 1454.5,1253.6 1458.1,1253.6 1461.8,1253.6 1465.5,1253.6 1469.3,1253.6 1473.0,1253.6 1476.8,1253.6 1480.6,1253.6 1484.4,1253.6 1488.3,1253.6 1492.2,1253.6 1496.1,1253.6 1500.0,1253.6 1502.5,1253.6 1505.1,1253.6 1507.7,1253.6 1510.4,1253.6 1513.1,1253.6 1515.9,1253.6 1518.8,1253.6 1521.7,1253.6 1524.7,1253.6 1527.7,1253.6 1530.8,1253.6 1533.9,1253.6 1537.1,1253.6 1540.3,1253.6 1543.5,1253.6 1546.8,1253.6 1550.1,1253.6 1553.4,1253.6 1556.8,1253.6 1560.2,1253.6 1563.6,1253.6 1567.1,1253.6 1570.6,1253.6 1574.0,1253.6 1577.6,1253.6 1581.1,1253.6 1584.6,1253.6 1588.2,1253.6 1591.7,1253.6 1595.3,1253.6 1598.8,1253.6 1602.4,1253.6 1606.0,1253.6 1609.5,1253.6 1613.1,1253.6 1616.6,1253.6 1620.2,1253.6 1623.7,1253.6 1627.2,1253.6 1630.7,1253.6 1634.2,1253.6 1637.7,1253.6 1641.1,1253.6 1644.5,1253.6 1647.9,1253.6 1651.2,1253.6 1654.6,1253.6 1657.9,1253.6 1661.1,1253.6 1664.3,1253.6 1667.5,1253.6 1670.6,1253.6 1673.7,1253.6 1676.8,1253.6 1679.8,1253.6 1682.7,1253.6 1685.6,1253.6 1688.4,1253.6 1691.2,1253.6 1693.9,1253.6 1696.6,1253.6 1699.2,1253.6 1701.7,1253.6 1704.2,1253.6 1706.5,1253.6 1708.9,1253.6 1711.1,1253.6 1713.2,1253.6 1715.3,1253.6 1717.3,1253.6 1719.2,1253.6 1721.1,1253.6 1722.8,1253.6 1724.4,1253.6 1726.0,1253.6" stroke="#00c45a" stroke-width="7" stroke-dasharray="22 16.00" stroke-dashoffset="37.6"/>
<path d="M151.0,1253.6 152.7,1253.6 154.8,1253.6 157.1,1253.6 159.8,1253.6 162.7,1253.6 165.7,1253.6 169.0,1253.6 172.4,1253.6 175.9,1253.6 179.4,1253.6 183.0,1253.6 186.5,1253.6 190.1,1253.6 193.5,1253.6 196.8,1253.6 200.0,1253.6 203.1,1253.6 206.4,1253.6 209.6,1253.6 213.0,1253.6 216.3,1253.6 219.7,1253.6 223.0,1253.6 226.4,1253.6 229.7,1253.6 232.9,1253.6 236.0,1253.6 239.1,1253.6 242.0,1253.6 244.8,1253.6 247.5,1253.6 250.0,1253.6 254.0,1253.4 257.5,1253.1 260.6,1252.8 263.4,1252.5 266.0,1252.1 268.6,1251.7 271.2,1251.2 274.0,1250.6 277.0,1250.0 279.9,1249.4 283.0,1248.9 286.1,1248.4 289.3,1247.9 292.5,1247.3 295.6,1246.5 298.8,1245.7 301.9,1244.7 304.9,1243.4 307.9,1242.0 310.5,1240.4 313.0,1238.7 315.6,1236.7 318.1,1234.7 320.6,1232.5 323.0,1230.2 325.4,1227.8 327.8,1225.4 330.1,1222.9 332.3,1220.4 334.5,1217.9 336.4,1215.5 338.3,1213.1 340.2,1210.6 342.0,1208.1 343.7,1205.5 345.5,1202.9 347.1,1200.2 348.8,1197.6 350.4,1194.8 351.9,1192.1 353.5,1189.4 354.9,1186.6 356.4,1183.8 357.7,1181.0 359.0,1178.2 360.3,1175.3 361.5,1172.4 362.6,1169.5 363.8,1166.5 364.9,1163.6 366.0,1160.6 367.1,1157.7 368.2,1154.7 369.4,1151.8 370.5,1148.8 371.6,1145.9 372.6,1143.0 373.7,1140.0 374.8,1137.1 375.8,1134.1 376.8,1131.1 377.8,1128.1 378.8,1125.1 379.8,1122.1 380.8,1119.1 381.8,1116.1 382.7,1113.0 383.6,1109.9 384.5,1106.8 385.4,1103.7 386.3,1100.5 387.2,1097.4 388.1,1094.2 388.9,1091.1 389.8,1087.9 390.6,1084.8 391.3,1081.7 392.1,1078.6 392.9,1075.5 393.5,1072.4 394.2,1069.4 394.8,1066.3 395.4,1063.3 396.0,1060.3 396.6,1057.2 397.2,1054.2 397.9,1051.2 398.5,1048.1 399.2,1045.0 400.0,1042.0 400.7,1039.1 401.5,1036.2 402.3,1033.4 403.2,1030.5 404.0,1027.6 404.9,1024.7 405.8,1021.8 406.7,1018.9 407.6,1016.0 408.5,1013.1 409.3,1010.2 410.2,1007.3 411.0,1004.5 411.9,1001.4 412.7,998.3 413.6,995.3 414.4,992.2 415.2,989.2 416.1,986.2 416.9,983.1 417.7,980.1 418.5,977.1 419.3,974.0 420.2,970.9 421.0,967.9 421.8,964.8 422.7,961.6 423.5,958.5 424.4,955.4 425.3,952.3 426.1,949.1 427.0,946.0 427.8,942.8 428.6,939.7 429.4,936.6 430.2,933.5 431.0,930.4 431.7,927.3 432.5,924.2 433.2,921.1 433.8,918.1 434.5,915.0 435.2,911.9 435.8,908.9 436.4,905.9 437.1,902.8 437.7,899.8 438.4,896.8 439.0,893.7 439.6,890.7 440.3,887.8 440.9,884.8 441.5,881.8 442.1,878.9 442.7,875.9 443.3,873.0 443.9,870.0 444.6,867.1 445.2,864.1 445.8,861.1 446.5,858.0 447.1,855.0 447.8,851.9 448.5,848.7 449.2,845.6 449.9,842.4 450.6,839.2 451.4,836.1 452.1,832.9 452.8,829.8 453.5,826.7 454.2,823.6 454.9,820.5 455.7,817.3 456.5,814.1 457.3,810.9 458.0,807.8 458.8,804.7 459.6,801.6 460.4,798.5 461.1,795.4 461.9,792.2 462.7,789.0 463.4,785.7 464.0,782.9 464.6,780.0 465.2,777.1 465.8,774.1 466.4,771.1 466.9,768.1 467.5,765.1 468.1,762.1 468.7,759.1 469.2,756.1 469.8,753.2 470.4,750.2 471.0,747.3 471.6,744.2 472.3,741.1 472.9,738.0 473.5,735.0 474.2,731.9 474.8,728.9 475.4,725.9 476.1,722.9 476.8,719.8 477.5,716.8 478.2,713.8 479.0,710.7 479.8,707.7 480.7,704.6 481.5,701.5 482.4,698.5 483.4,695.4 484.3,692.4 485.3,689.3 486.2,686.2 487.2,683.2 488.1,680.2 489.1,677.1 490.0,674.1 490.9,671.1 491.9,668.2 492.8,665.3 493.8,662.4 494.8,659.5 495.8,656.6 496.7,653.7 497.6,650.7 498.5,647.7 499.4,644.7 500.2,641.6 501.0,638.4 501.6,635.6 502.1,632.7 502.5,629.7 502.9,626.6 503.2,623.5 503.5,620.4 503.8,617.3 504.2,614.2 504.6,611.1 505.0,608.0 505.6,605.0 506.2,602.1 507.0,599.2 508.0,596.4 509.2,593.6 510.5,590.7 512.0,588.0 513.5,585.3 515.2,582.7 516.9,580.1 518.7,577.6 520.6,575.1 522.4,572.5 524.3,570.0 526.2,567.5 528.1,565.0 530.0,562.5 531.9,559.9 533.8,557.2 535.8,554.4 537.8,551.7 539.8,548.9 541.8,546.1 543.9,543.4 546.0,540.8 548.0,538.3 550.1,536.0 552.1,533.9 554.1,532.0 556.0,530.4" stroke="#b89c2c" stroke-width="7" stroke-dasharray="22 15.75" stroke-dashoffset="2.2"/>
<path d="M556.0,530.4 559.1,528.2 562.2,526.8 565.2,525.7 568.2,525.1 571.2,524.6 574.1,524.2 577.1,523.8 580.0,523.2 583.4,522.5 586.8,521.8 590.2,521.3 593.6,520.8 596.9,520.2 600.0,519.6 603.0,518.8 606.2,517.6 609.2,516.3 612.0,514.9 614.7,513.5 617.4,512.0 620.0,510.7 622.8,509.3 625.2,508.0 627.7,506.7 630.8,505.3 635.0,503.6 637.3,502.7 639.8,501.8 642.7,500.7 645.7,499.6 648.9,498.4 652.2,497.3 655.5,496.1 658.7,495.1 661.8,494.1 664.8,493.2 667.5,492.5 670.0,492.0 674.2,491.3 677.8,491.1 680.9,491.2 683.9,491.6 686.8,492.2 690.0,492.9 692.8,493.4 695.4,494.1 697.9,494.8 700.6,495.7 703.4,496.9 706.5,498.3 710.0,500.0 712.3,501.3 714.9,502.8 717.7,504.5 720.6,506.3 723.6,508.2 726.6,510.2 729.6,512.1 732.5,514.0 735.3,515.7 737.8,517.3 740.1,518.6 742.0,519.6 745.9,522.0 747.4,522.4 752.0,521.4 754.0,521.0 756.4,520.5 759.0,519.9 761.9,519.2 764.9,518.4 768.1,517.5 771.4,516.6 774.7,515.7 778.0,514.7 781.2,513.7 784.3,512.7 787.3,511.7 790.0,510.7 793.1,509.5 796.1,508.3 799.0,507.0 801.9,505.7 804.7,504.3 807.5,502.9 810.2,501.6 812.8,500.2 815.3,498.9 817.7,497.6 820.0,496.4 823.3,494.7 826.3,493.3 829.0,491.9 831.6,490.5 834.2,489.0 837.0,487.1 840.0,484.8 842.1,483.0 844.3,481.0 846.6,478.7 848.9,476.3 851.3,473.9 853.7,471.4 856.1,468.9 858.4,466.5 860.7,464.3 862.9,462.4 865.0,460.7 868.2,458.5 871.2,456.6 874.1,455.1 877.0,453.8 879.7,452.9 882.4,452.2 885.0,451.8 888.5,451.4 891.8,451.1 894.9,451.7 898.0,453.5 901.0,457.1 902.1,459.0 903.1,461.3 904.2,463.9 905.3,466.7 906.3,469.8 907.3,473.0 908.4,476.3 909.4,479.8 910.4,483.2 911.3,486.6 912.3,490.0 913.2,493.2 914.1,496.3 915.0,499.1 916.1,502.5 917.1,505.7 918.2,508.8 919.1,511.8 920.1,514.8 921.0,517.8 921.9,520.7 922.7,523.7 923.5,526.7 924.3,529.8 925.0,533.0 925.6,536.1 926.0,539.2 926.4,542.4 926.8,545.6 927.1,548.9 927.4,552.2 927.7,555.5 928.0,558.7 928.4,562.0 928.8,565.2 929.4,568.3 930.0,571.4 930.8,574.4 931.7,577.4 932.6,580.3 933.7,583.2 934.8,586.1 935.9,588.9 937.1,591.7 938.2,594.6 939.3,597.4 940.3,600.3 941.2,603.3 942.0,606.2 942.7,609.3 943.4,612.4 943.9,615.6 944.5,618.8 945.0,622.0 945.4,625.2 945.9,628.4 946.3,631.6 946.7,634.8 947.1,637.8 947.6,640.8 948.0,643.7 948.5,647.1 949.0,650.3 949.4,653.4 949.9,656.4 950.3,659.4 950.8,662.4 951.2,665.4 951.8,668.5 952.3,671.7 953.0,675.0 953.6,677.9 954.3,680.8 955.0,683.7 955.7,686.7 956.5,689.8 957.3,692.9 958.1,696.0 958.9,699.1 959.7,702.2 960.5,705.3 961.3,708.5 962.0,711.6 962.6,714.5 963.3,717.5 963.9,720.4 964.5,723.4 965.1,726.4 965.7,729.4 966.3,732.4 966.9,735.4 967.5,738.4 968.1,741.3 968.7,744.3 969.4,747.2 970.0,750.0 970.8,753.3 971.6,756.5 972.4,759.7 973.2,762.8 974.0,765.9 974.8,769.0 975.6,772.0 976.4,775.2 977.3,778.3 978.1,781.5 979.0,784.8 979.7,787.7 980.5,790.6 981.2,793.5 982.0,796.5 982.7,799.4 983.5,802.5 984.3,805.5 985.0,808.5 985.8,811.5 986.6,814.5 987.4,817.4 988.2,820.3 989.0,823.2 989.9,826.3 990.7,829.3 991.6,832.3 992.4,835.3 993.3,838.2 994.1,841.2 995.0,844.1 995.9,847.1 996.9,850.0 997.9,853.0 998.9,855.9 1000.0,858.9" stroke="#b89c2c" stroke-width="7" stroke-dasharray="22 14.75" stroke-dashoffset="34.3"/>
<path d="M1000.0,858.9 1001.1,861.7 1002.1,864.5 1003.3,867.4 1004.4,870.2 1005.6,873.1 1006.8,876.0 1008.1,878.8 1009.3,881.7 1010.6,884.5 1011.9,887.3 1013.3,890.1 1014.6,892.8 1016.0,895.5 1017.5,898.5 1019.1,901.4 1020.7,904.4 1022.4,907.4 1024.1,910.3 1025.8,913.2 1027.5,916.1 1029.3,918.8 1031.0,921.5 1032.7,924.0 1034.4,926.4 1036.0,928.6 1038.5,931.6 1041.0,934.4 1043.5,936.9 1046.0,939.1 1048.4,941.2 1050.8,943.1 1053.0,944.8 1055.0,946.4 1058.3,948.8 1060.9,950.3 1063.6,951.7 1067.0,953.6 1069.3,955.1 1071.6,956.9 1074.1,958.8 1076.7,960.8 1079.7,962.7 1083.1,964.5 1087.0,966.1 1089.5,966.9 1092.3,967.6 1095.3,968.3 1098.4,969.0 1101.7,969.6 1105.1,970.2 1108.5,970.8 1111.9,971.3 1115.3,971.8 1118.6,972.3 1121.9,972.8 1125.0,973.2 1128.3,973.6 1131.5,973.9 1134.7,974.1 1137.9,974.2 1141.1,974.3 1144.2,974.4 1147.3,974.6 1150.5,974.9 1153.6,975.3 1156.8,975.9 1160.0,976.8 1162.8,977.7 1165.5,978.7 1168.4,979.8 1171.2,981.0 1174.0,982.3 1176.9,983.7 1179.7,985.1 1182.5,986.6 1185.3,988.2 1188.1,989.7 1190.8,991.4 1193.4,993.0 1196.0,994.6 1198.5,996.3 1201.0,998.1 1203.5,999.9 1205.9,1001.7 1208.2,1003.6 1210.6,1005.5 1212.9,1007.5 1215.2,1009.5 1217.4,1011.5 1219.6,1013.5 1221.8,1015.6 1223.9,1017.6 1226.0,1019.6 1228.2,1021.8 1230.5,1024.0 1232.7,1026.2 1234.9,1028.4 1237.0,1030.6 1239.1,1032.9 1241.1,1035.1 1243.0,1037.5 1244.9,1039.8 1246.7,1042.3 1248.4,1044.8 1250.0,1047.3 1251.4,1050.0 1252.7,1052.7 1253.9,1055.5 1254.9,1058.4 1255.9,1061.4 1256.8,1064.3 1257.7,1067.3 1258.6,1070.3 1259.6,1073.3 1260.6,1076.3 1261.7,1079.2 1263.0,1082.1 1264.4,1085.0 1265.9,1087.8 1267.4,1090.6 1269.0,1093.4 1270.6,1096.2 1272.3,1098.9 1274.0,1101.7 1275.7,1104.5 1277.3,1107.4 1278.9,1110.2 1280.5,1113.1 1282.0,1116.1 1283.3,1118.9 1284.7,1121.7 1286.0,1124.6 1287.3,1127.6 1288.6,1130.5 1289.9,1133.5 1291.1,1136.5 1292.3,1139.4 1293.5,1142.4 1294.7,1145.3 1295.8,1148.1 1296.9,1150.9 1298.0,1153.6 1299.2,1156.6 1300.4,1159.6 1301.5,1162.4 1302.5,1165.2 1303.6,1167.9 1304.6,1170.6 1305.5,1173.3 1306.4,1176.1 1307.3,1178.9 1308.2,1181.8 1309.0,1184.8 1309.7,1187.7 1310.4,1190.7 1311.1,1193.7 1311.7,1196.8 1312.3,1199.9 1312.8,1203.1 1313.4,1206.2 1313.9,1209.4 1314.4,1212.5 1314.9,1215.5 1315.5,1218.5 1316.0,1221.4 1316.6,1225.0 1317.1,1228.7 1317.6,1232.4 1318.0,1236.1 1318.5,1239.8 1319.0,1243.2 1319.6,1246.4 1320.2,1249.3 1321.0,1251.7 1322.0,1253.6 1322.1,1253.6 1320.2,1253.6 1319.9,1253.6 1324.4,1253.6 1337.0,1253.6 1338.7,1253.6 1340.5,1253.6 1342.3,1253.6 1344.2,1253.6 1346.2,1253.6 1348.3,1253.6 1350.4,1253.6 1352.6,1253.6 1354.9,1253.6 1357.2,1253.6 1359.6,1253.6 1362.1,1253.6 1364.6,1253.6 1367.2,1253.6 1369.8,1253.6 1372.5,1253.6 1375.2,1253.6 1378.0,1253.6 1380.9,1253.6 1383.8,1253.6 1386.7,1253.6 1389.7,1253.6 1392.8,1253.6 1395.8,1253.6 1399.0,1253.6 1402.1,1253.6 1405.3,1253.6 1408.5,1253.6 1411.8,1253.6 1415.1,1253.6 1418.4,1253.6 1421.8,1253.6 1425.2,1253.6 1428.6,1253.6 1432.1,1253.6 1435.5,1253.6 1439.0,1253.6 1442.5,1253.6 1446.0,1253.6 1449.6,1253.6 1453.1,1253.6 1456.7,1253.6 1460.3,1253.6 1463.9,1253.6 1467.5,1253.6 1471.1,1253.6 1474.7,1253.6 1478.3,1253.6 1481.9,1253.6 1485.5,1253.6 1489.2,1253.6 1492.8,1253.6 1496.4,1253.6 1500.0,1253.6 1502.6,1253.6 1505.3,1253.6 1508.1,1253.6 1510.9,1253.6 1513.7,1253.6 1516.6,1253.6 1519.6,1253.6 1522.6,1253.6 1525.6,1253.6 1528.7,1253.6 1531.9,1253.6 1535.0,1253.6 1538.2,1253.6 1541.5,1253.6 1544.8,1253.6 1548.1,1253.6 1551.4,1253.6 1554.8,1253.6 1558.2,1253.6 1561.6,1253.6 1565.1,1253.6 1568.6,1253.6 1572.0,1253.6 1575.5,1253.6 1579.0,1253.6 1582.6,1253.6 1586.1,1253.6 1589.6,1253.6 1593.2,1253.6 1596.7,1253.6 1600.3,1253.6 1603.8,1253.6 1607.3,1253.6 1610.9,1253.6 1614.4,1253.6 1617.9,1253.6 1621.4,1253.6 1624.9,1253.6 1628.4,1253.6 1631.9,1253.6 1635.3,1253.6 1638.7,1253.6 1642.1,1253.6 1645.5,1253.6 1648.8,1253.6 1652.2,1253.6 1655.4,1253.6 1658.7,1253.6 1661.9,1253.6 1665.1,1253.6 1668.2,1253.6 1671.3,1253.6 1674.3,1253.6 1677.3,1253.6 1680.3,1253.6 1683.2,1253.6 1686.0,1253.6 1688.8,1253.6 1691.6,1253.6 1694.3,1253.6 1696.9,1253.6 1699.4,1253.6 1701.9,1253.6 1704.3,1253.6 1706.7,1253.6 1709.0,1253.6 1711.2,1253.6 1713.3,1253.6 1715.4,1253.6 1717.4,1253.6 1719.3,1253.6 1721.1,1253.6 1722.8,1253.6 1724.4,1253.6 1726.0,1253.6" stroke="#b89c2c" stroke-width="7" stroke-dasharray="22 15.25" stroke-dashoffset="19.3"/>
<path d="M151.0,1253.6 152.7,1253.6 154.8,1253.6 157.1,1253.6 159.8,1253.6 162.7,1253.6 165.7,1253.6 169.0,1253.6 172.4,1253.6 175.9,1253.6 179.4,1253.6 183.0,1253.6 186.5,1253.6 190.1,1253.6 193.5,1253.6 196.8,1253.6 200.0,1253.6 203.1,1253.6 206.4,1253.6 209.6,1253.6 213.0,1253.6 216.3,1253.6 219.7,1253.6 223.0,1253.6 226.4,1253.6 229.7,1253.6 232.9,1253.6 236.0,1253.6 239.1,1253.6 242.0,1253.6 244.8,1253.6 247.5,1253.6 250.0,1253.6 254.0,1253.4 257.5,1253.1 260.6,1252.8 263.4,1252.5 266.0,1252.1 268.6,1251.7 271.2,1251.2 273.9,1250.6 277.0,1250.0 280.0,1249.4 283.0,1248.9 286.1,1248.4 289.3,1247.9 292.5,1247.3 295.7,1246.5 298.9,1245.7 302.0,1244.7 305.1,1243.4 308.0,1242.0 310.5,1240.5 312.9,1239.0 315.2,1237.2 317.6,1235.4 319.9,1233.4 322.2,1231.4 324.5,1229.2 326.7,1227.0 328.9,1224.8 331.0,1222.5 333.1,1220.2 335.2,1217.9 337.2,1215.5 339.1,1213.1 341.0,1210.6 342.9,1208.1 344.7,1205.5 346.5,1202.9 348.3,1200.2 350.0,1197.6 351.6,1194.8 353.2,1192.1 354.8,1189.4 356.4,1186.6 357.8,1183.8 359.3,1181.0 360.6,1178.2 361.9,1175.3 363.2,1172.4 364.5,1169.5 365.7,1166.5 366.9,1163.6 368.0,1160.6 369.2,1157.7 370.4,1154.7 371.6,1151.8 372.7,1148.8 373.9,1145.9 375.0,1143.0 376.2,1140.0 377.3,1137.1 378.4,1134.1 379.5,1131.1 380.6,1128.1 381.6,1125.1 382.7,1122.1 383.7,1119.1 384.8,1116.1 385.7,1113.2 386.6,1110.4 387.5,1107.5 388.4,1104.6 389.4,1101.7 390.2,1098.8 391.1,1095.9 392.0,1093.0 392.8,1090.1 393.6,1087.2 394.4,1084.3 395.2,1081.4 396.0,1078.6 396.7,1075.5 397.4,1072.4 398.1,1069.4 398.8,1066.3 399.4,1063.3 400.0,1060.3 400.6,1057.2 401.2,1054.2 401.9,1051.2 402.5,1048.1 403.2,1045.0 404.0,1042.0 404.8,1039.1 405.5,1036.2 406.4,1033.4 407.2,1030.5 408.1,1027.6 408.9,1024.7 409.8,1021.8 410.7,1018.9 411.6,1016.0 412.5,1013.1 413.3,1010.2 414.2,1007.3 415.0,1004.5 415.9,1001.4 416.7,998.3 417.6,995.3 418.4,992.2 419.2,989.2 420.1,986.2 420.9,983.1 421.7,980.1 422.5,977.1 423.3,974.0 424.2,970.9 425.0,967.9 425.8,964.8 426.7,961.6 427.5,958.5 428.4,955.4 429.3,952.3 430.1,949.1 431.0,946.0 431.8,942.8 432.6,939.7 433.4,936.6 434.2,933.5 435.0,930.4 435.7,927.3 436.4,924.2 437.1,921.1 437.8,918.1 438.5,915.0 439.1,911.9 439.7,908.9 440.4,905.9 441.0,902.8 441.7,899.8 442.3,896.8 443.0,893.7 443.7,890.7 444.3,887.8 445.0,884.8 445.7,881.8 446.4,878.9 447.0,875.9 447.7,873.0 448.4,870.0 449.1,867.1 449.8,864.1 450.5,861.1 451.3,858.0 452.0,855.0 452.7,851.9 453.5,848.7 454.3,845.6 455.1,842.4 455.8,839.2 456.6,836.1 457.4,832.9 458.2,829.8 459.0,826.7 459.8,823.6 460.5,820.5 461.3,817.6 462.1,814.6 462.9,811.7 463.7,808.9 464.5,806.0 465.2,803.2 466.0,800.3 466.8,797.5 467.6,794.6 468.3,791.7 469.1,788.7 469.8,785.7 470.5,782.9 471.1,780.0 471.8,777.1 472.4,774.1 473.0,771.1 473.7,768.1 474.3,765.1 474.9,762.1 475.5,759.1 476.1,756.1 476.8,753.2 477.4,750.2 478.0,747.3 478.7,744.2 479.3,741.1 479.9,738.0 480.6,735.0 481.2,731.9 481.8,728.9 482.5,725.9 483.1,722.9 483.8,719.8 484.5,716.8 485.2,713.8 486.0,710.7 486.8,707.7 487.7,704.6 488.5,701.5 489.4,698.5 490.4,695.4 491.3,692.4 492.3,689.3 493.2,686.2 494.2,683.2 495.1,680.2 496.1,677.1 497.0,674.1 497.9,671.0 498.8,667.8 499.8,664.6 500.7,661.3 501.6,658.0 502.6,654.8 503.5,651.6 504.4,648.6 505.3,645.7 506.2,643.0 507.1,640.6 508.0,638.4 510.0,634.4 512.0,631.7 513.9,629.7 515.9,627.7 518.0,625.0 519.5,622.7 521.0,620.3 522.5,617.8 524.1,615.2 525.8,612.4 527.7,609.4 530.0,606.2 531.6,604.0 533.3,601.7 535.1,599.2 537.0,596.6 539.0,593.9 541.0,591.2 543.1,588.6 545.3,585.9 547.5,583.3 549.7,580.9 552.0,578.6 554.3,576.4 556.7,574.3 559.2,572.3 561.7,570.4 564.3,568.5 566.9,566.7 569.6,564.8 572.2,562.9 574.8,561.1 577.4,559.1 580.0,557.1" stroke="#c0101e" stroke-width="7" stroke-dasharray="22 15.75" stroke-dashoffset="2.2"/>
<path d="M580.0,557.1 582.3,555.2 584.6,553.3 587.0,551.3 589.3,549.3 591.6,547.2 593.9,545.2 596.2,543.2 598.5,541.2 600.9,539.3 603.2,537.4 605.6,535.6 608.0,533.9 610.7,532.2 613.4,530.5 616.3,528.8 619.1,527.2 622.0,525.6 624.8,524.2 627.6,522.7 630.3,521.4 633.0,520.1 635.6,519.0 638.0,517.9 641.6,516.3 645.0,515.0 648.3,513.8 651.3,512.9 654.3,512.0 657.2,511.3 660.0,510.7 663.8,510.0 667.3,509.5 670.6,509.2 673.8,509.3 677.0,509.8 680.1,510.8 683.1,512.1 686.0,513.8 689.0,515.7 692.0,517.9 694.2,519.6 696.4,521.6 698.6,523.8 700.8,526.1 703.1,528.3 705.5,530.3 708.0,532.1 710.7,533.7 713.5,535.2 716.3,536.6 719.3,537.8 722.2,539.0 725.2,540.1 728.0,541.1 731.1,542.3 733.9,543.7 736.7,545.0 739.7,545.9 743.0,546.1 747.0,545.5 749.3,544.8 751.7,543.8 754.2,542.5 756.9,541.1 759.7,539.5 762.6,537.7 765.5,535.9 768.4,534.1 771.4,532.4 774.3,530.7 777.2,529.1 780.0,527.7 782.9,526.4 785.8,525.0 788.9,523.7 791.9,522.4 795.0,521.1 798.1,519.9 801.1,518.8 804.0,517.7 806.7,516.7 809.4,515.7 811.8,514.9 814.0,514.3 818.4,513.2 821.7,512.6 824.5,512.4 827.1,512.7 830.0,513.4 832.6,514.0 835.2,514.7 837.8,515.7 840.4,517.1 843.1,519.3 846.0,522.3 847.4,524.1 848.9,526.1 850.5,528.4 852.1,530.8 853.7,533.4 855.3,536.2 856.9,539.0 858.6,541.9 860.2,544.8 861.7,547.7 863.2,550.6 864.6,553.5 866.0,556.2 867.3,559.0 868.5,561.8 869.6,564.6 870.8,567.4 871.8,570.3 872.9,573.1 873.9,576.0 874.9,578.9 875.9,581.7 876.9,584.5 877.9,587.3 878.9,590.1 880.0,592.9 881.2,595.8 882.3,598.6 883.4,601.5 884.6,604.3 885.7,607.1 886.8,609.9 888.0,612.7 889.1,615.4 890.3,618.2 891.5,621.1 892.7,623.9 894.0,626.8 895.2,629.5 896.5,632.2 897.8,635.0 899.1,637.8 900.5,640.6 901.9,643.4 903.2,646.2 904.6,648.9 906.0,651.7 907.3,654.5 908.6,657.2 909.8,659.9 911.0,662.5 912.3,665.5 913.6,668.5 914.8,671.4 916.0,674.3 917.1,677.1 918.2,679.9 919.4,682.8 920.5,685.7 921.6,688.6 922.8,691.6 924.0,694.6 925.0,697.3 926.1,700.1 927.2,702.9 928.2,705.7 929.3,708.6 930.4,711.5 931.5,714.4 932.6,717.3 933.7,720.2 934.7,723.0 935.8,725.8 936.9,728.6 938.0,731.2 939.3,734.3 940.5,737.3 941.8,740.2 943.0,743.1 944.3,746.0 945.6,748.8 946.8,751.6 948.1,754.5 949.4,757.4 950.7,760.4 952.0,763.4 953.2,766.2 954.4,769.1 955.7,772.0 956.9,775.0 958.2,778.0 959.4,781.0 960.7,784.0 962.0,787.0 963.2,790.0 964.5,793.1 965.7,796.1 967.0,799.1 968.2,801.9 969.3,804.7 970.5,807.6 971.6,810.5 972.8,813.3 973.9,816.2 975.1,819.1 976.2,821.9 977.4,824.8 978.5,827.6 979.7,830.3 980.8,833.0 982.0,835.7 983.4,838.8 984.7,841.9 986.1,844.9 987.5,847.9 988.8,850.8 990.2,853.7 991.5,856.6 992.9,859.5 994.3,862.3 995.6,865.1 997.0,867.9 998.5,870.8 999.9,873.7 1001.3,876.4" stroke="#c0101e" stroke-width="7" stroke-dasharray="22 15.75" stroke-dashoffset="11.0"/>
<path d="M1001.3,876.4 1002.8,879.1 1004.2,881.8 1005.6,884.5 1007.1,887.3 1008.7,890.2 1010.3,893.2 1012.0,896.4 1013.3,898.9 1014.6,901.4 1015.9,904.0 1017.3,906.7 1018.7,909.5 1020.1,912.3 1021.6,915.1 1023.0,918.0 1024.5,920.8 1026.0,923.5 1027.5,926.3 1029.0,928.9 1030.5,931.5 1032.0,933.9 1033.7,936.7 1035.5,939.4 1037.2,942.0 1038.9,944.6 1040.7,947.2 1042.4,949.7 1044.2,952.1 1046.1,954.5 1048.0,956.8 1049.9,959.0 1051.9,961.2 1054.0,963.4 1056.2,965.5 1058.4,967.5 1060.6,969.4 1063.0,971.3 1065.3,973.1 1067.8,974.8 1070.2,976.6 1072.7,978.2 1075.2,979.9 1077.8,981.5 1080.4,983.2 1083.0,984.8 1085.7,986.4 1088.4,988.0 1091.1,989.5 1094.0,991.0 1096.8,992.5 1099.7,994.0 1102.6,995.4 1105.5,996.9 1108.4,998.3 1111.3,999.7 1114.2,1001.2 1117.0,1002.7 1119.9,1004.2 1122.8,1005.7 1125.7,1007.3 1128.7,1008.9 1131.7,1010.5 1134.6,1012.1 1137.5,1013.6 1140.4,1015.1 1143.2,1016.6 1145.9,1018.0 1148.5,1019.3 1151.0,1020.5 1154.5,1022.2 1157.7,1023.6 1160.7,1024.9 1163.6,1026.1 1166.4,1027.2 1169.2,1028.4 1172.0,1029.7 1175.0,1031.2 1177.7,1032.7 1180.5,1034.1 1183.3,1035.5 1186.1,1037.0 1188.9,1038.5 1191.7,1040.2 1194.5,1042.1 1197.3,1044.1 1200.0,1046.4 1202.0,1048.3 1204.1,1050.4 1206.1,1052.6 1208.1,1055.0 1210.1,1057.4 1212.1,1059.9 1214.1,1062.4 1216.0,1065.0 1218.0,1067.5 1220.0,1070.1 1222.0,1072.6 1224.0,1075.0 1226.0,1077.4 1228.0,1079.7 1230.0,1082.1 1232.1,1084.5 1234.1,1086.8 1236.1,1089.2 1238.1,1091.5 1240.1,1093.9 1242.1,1096.3 1244.1,1098.7 1246.1,1101.1 1248.0,1103.6 1249.9,1106.0 1251.8,1108.5 1253.7,1111.1 1255.6,1113.6 1257.4,1116.2 1259.2,1118.7 1261.1,1121.3 1262.9,1123.9 1264.7,1126.4 1266.5,1129.0 1268.2,1131.5 1270.0,1133.9 1271.9,1136.6 1273.7,1139.2 1275.5,1141.7 1277.3,1144.2 1279.1,1146.7 1280.9,1149.3 1282.7,1151.8 1284.5,1154.4 1286.3,1157.0 1288.1,1159.7 1290.0,1162.5 1291.7,1164.9 1293.4,1167.4 1295.2,1169.8 1297.1,1172.3 1299.0,1174.9 1300.8,1177.4 1302.7,1180.0 1304.5,1182.7 1306.2,1185.4 1307.8,1188.1 1309.4,1190.8 1310.8,1193.6 1312.0,1196.4 1313.1,1199.4 1314.1,1202.5 1314.9,1205.7 1315.7,1209.1 1316.4,1212.5 1317.0,1215.9 1317.5,1219.3 1318.0,1222.6 1318.4,1225.8 1318.9,1228.8 1319.2,1231.6 1319.6,1234.3 1320.0,1236.6 1320.6,1241.8 1320.6,1245.9 1320.6,1249.1 1320.9,1251.6 1322.0,1253.6 1321.8,1253.6 1320.0,1253.6 1319.7,1253.6 1324.3,1253.6 1337.0,1253.6 1338.7,1253.6 1340.5,1253.6 1342.3,1253.6 1344.2,1253.6 1346.2,1253.6 1348.3,1253.6 1350.4,1253.6 1352.6,1253.6 1354.9,1253.6 1357.2,1253.6 1359.6,1253.6 1362.1,1253.6 1364.6,1253.6 1367.2,1253.6 1369.8,1253.6 1372.5,1253.6 1375.2,1253.6 1378.0,1253.6 1380.9,1253.6 1383.8,1253.6 1386.7,1253.6 1389.7,1253.6 1392.8,1253.6 1395.8,1253.6 1399.0,1253.6 1402.1,1253.6 1405.3,1253.6 1408.5,1253.6 1411.8,1253.6 1415.1,1253.6 1418.4,1253.6 1421.8,1253.6 1425.2,1253.6 1428.6,1253.6 1432.1,1253.6 1435.5,1253.6 1439.0,1253.6 1442.5,1253.6 1446.0,1253.6 1449.6,1253.6 1453.1,1253.6 1456.7,1253.6 1460.3,1253.6 1463.9,1253.6 1467.5,1253.6 1471.1,1253.6 1474.7,1253.6 1478.3,1253.6 1481.9,1253.6 1485.5,1253.6 1489.2,1253.6 1492.8,1253.6 1496.4,1253.6 1500.0,1253.6 1502.6,1253.6 1505.3,1253.6 1508.1,1253.6 1510.9,1253.6 1513.7,1253.6 1516.6,1253.6 1519.6,1253.6 1522.6,1253.6 1525.6,1253.6 1528.7,1253.6 1531.9,1253.6 1535.0,1253.6 1538.2,1253.6 1541.5,1253.6 1544.8,1253.6 1548.1,1253.6 1551.4,1253.6 1554.8,1253.6 1558.2,1253.6 1561.6,1253.6 1565.1,1253.6 1568.6,1253.6 1572.0,1253.6 1575.5,1253.6 1579.0,1253.6 1582.6,1253.6 1586.1,1253.6 1589.6,1253.6 1593.2,1253.6 1596.7,1253.6 1600.3,1253.6 1603.8,1253.6 1607.3,1253.6 1610.9,1253.6 1614.4,1253.6 1617.9,1253.6 1621.4,1253.6 1624.9,1253.6 1628.4,1253.6 1631.9,1253.6 1635.3,1253.6 1638.7,1253.6 1642.1,1253.6 1645.5,1253.6 1648.8,1253.6 1652.2,1253.6 1655.4,1253.6 1658.7,1253.6 1661.9,1253.6 1665.1,1253.6 1668.2,1253.6 1671.3,1253.6 1674.3,1253.6 1677.3,1253.6 1680.3,1253.6 1683.2,1253.6 1686.0,1253.6 1688.8,1253.6 1691.6,1253.6 1694.3,1253.6 1696.9,1253.6 1699.4,1253.6 1701.9,1253.6 1704.3,1253.6 1706.7,1253.6 1709.0,1253.6 1711.2,1253.6 1713.3,1253.6 1715.4,1253.6 1717.4,1253.6 1719.3,1253.6 1721.1,1253.6 1722.8,1253.6 1724.4,1253.6 1726.0,1253.6" stroke="#c0101e" stroke-width="7" stroke-dasharray="22 17.00" stroke-dashoffset="24.0"/>
</g>
<text transform="translate(137.9,1421.0) scale(0.84,1)" font-family="Liberation Serif, Times New Roman, serif" font-size="59" letter-spacing="3.5" text-anchor="end" fill="#333">0</text>
<text transform="translate(137.9,1226.5) scale(0.84,1)" font-family="Liberation Serif, Times New Roman, serif" font-size="59" letter-spacing="3.5" text-anchor="end" fill="#333">5</text>
<text transform="translate(137.9,1031.9) scale(0.84,1)" font-family="Liberation Serif, Times New Roman, serif" font-size="59" letter-spacing="3.5" text-anchor="end" fill="#333">10</text>
<text transform="translate(137.9,837.4) scale(0.84,1)" font-family="Liberation Serif, Times New Roman, serif" font-size="59" letter-spacing="3.5" text-anchor="end" fill="#333">15</text>
<text transform="translate(137.9,642.8) scale(0.84,1)" font-family="Liberation Serif, Times New Roman, serif" font-size="59" letter-spacing="3.5" text-anchor="end" fill="#333">20</text>
<text transform="translate(137.9,448.3) scale(0.84,1)" font-family="Liberation Serif, Times New Roman, serif" font-size="59" letter-spacing="3.5" text-anchor="end" fill="#333">25</text>
<text transform="translate(137.9,253.7) scale(0.84,1)" font-family="Liberation Serif, Times New Roman, serif" font-size="59" letter-spacing="3.5" text-anchor="end" fill="#333">30</text>
<text transform="translate(137.9,59.2) scale(0.84,1)" font-family="Liberation Serif, Times New Roman, serif" font-size="59" letter-spacing="3.5" text-anchor="end" fill="#333">35</text>
<text transform="translate(149.5,1470) scale(0.84,1)" font-family="Liberation Serif, Times New Roman, serif" font-size="59" letter-spacing="3.5" text-anchor="middle" fill="#333">0.01</text>
<text transform="translate(411.1,1470) scale(0.84,1)" font-family="Liberation Serif, Times New Roman, serif" font-size="59" letter-spacing="3.5" text-anchor="middle" fill="#333">0.1</text>
<text transform="translate(677.7,1470) scale(0.84,1)" font-family="Liberation Serif, Times New Roman, serif" font-size="59" letter-spacing="3.5" text-anchor="middle" fill="#333">1</text>
<text transform="translate(943.4,1470) scale(0.84,1)" font-family="Liberation Serif, Times New Roman, serif" font-size="59" letter-spacing="3.5" text-anchor="middle" fill="#333">10</text>
<text transform="translate(1204.4,1470) scale(0.84,1)" font-family="Liberation Serif, Times New Roman, serif" font-size="59" letter-spacing="3.5" text-anchor="middle" fill="#333">100</text>
<text transform="translate(1466.5,1470) scale(0.84,1)" font-family="Liberation Serif, Times New Roman, serif" font-size="59" letter-spacing="3.5" text-anchor="middle" fill="#333">1000</text>
<text x="1597" y="1470.5" font-family="Liberation Sans, Arial, sans-serif" font-size="56" letter-spacing="2.5" fill="#555">10,000</text>
<text transform="translate(791,1534.5) scale(0.89,1)" font-family="Liberation Serif, Times New Roman, serif" font-size="74" fill="#1c1c1c">time/ms</text>
<text transform="translate(65,918) scale(0.89,1) rotate(-90)" font-family="Liberation Serif, Times New Roman, serif" font-size="71" fill="#1c1c1c">signal intensity</text>
<line x1="1117" y1="103.3" x2="1219" y2="103.3" stroke="#1a14a8" stroke-width="8" stroke-dasharray="22 18"/>
<text transform="translate(1249.5,121.3) scale(0.89,1)" font-family="Liberation Serif, Times New Roman, serif" font-size="57" fill="#222">water drive oil</text>
<line x1="1117" y1="171.0" x2="1219" y2="171.0" stroke="#0a0a0a" stroke-width="8" stroke-dasharray="22 18"/>
<text transform="translate(1249.5,189.0) scale(0.89,1)" font-family="Liberation Serif, Times New Roman, serif" font-size="57" fill="#222">imbibition for 1 day</text>
<line x1="1117" y1="238.7" x2="1219" y2="238.7" stroke="#d98a32" stroke-width="8" stroke-dasharray="22 18"/>
<text transform="translate(1249.5,256.7) scale(0.89,1)" font-family="Liberation Serif, Times New Roman, serif" font-size="57" fill="#222">imbibition for 3 days</text>
<line x1="1117" y1="306.4" x2="1219" y2="306.4" stroke="#00c45a" stroke-width="8" stroke-dasharray="22 18"/>
<text transform="translate(1249.5,324.4) scale(0.89,1)" font-family="Liberation Serif, Times New Roman, serif" font-size="57" fill="#222">imbibition for 5 days</text>
<line x1="1117" y1="374.1" x2="1219" y2="374.1" stroke="#b09a30" stroke-width="8" stroke-dasharray="22 18"/>
<text transform="translate(1249.5,392.1) scale(0.89,1)" font-family="Liberation Serif, Times New Roman, serif" font-size="57" fill="#222">imbibition for 7 days</text>
<line x1="1117" y1="441.8" x2="1219" y2="441.8" stroke="#c0101e" stroke-width="8" stroke-dasharray="22 18"/>
<text transform="translate(1249.5,459.8) scale(0.89,1)" font-family="Liberation Serif, Times New Roman, serif" font-size="57" fill="#222">imbibition for 10 days</text>
</g></svg></body></html>
